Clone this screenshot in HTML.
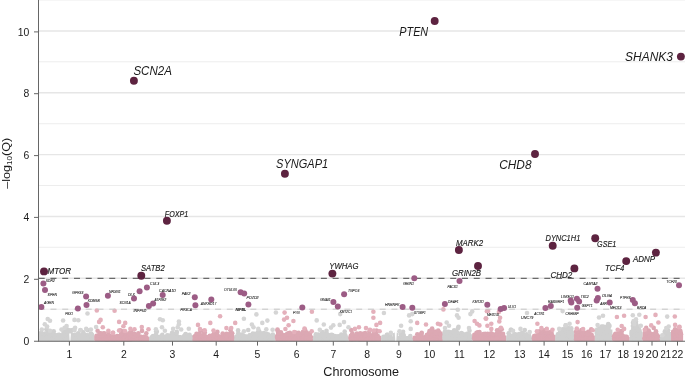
<!DOCTYPE html>
<html><head><meta charset="utf-8"><title>Manhattan plot</title>
<style>html,body{margin:0;padding:0;background:#fff;}svg{display:block;will-change:transform;}text{font-family:"Liberation Sans",sans-serif;}</style>
</head><body>
<svg width="685" height="376" viewBox="0 0 685 376">
<rect width="685" height="376" fill="#ffffff"/>
<line x1="38.5" x2="685" y1="309.2" y2="309.2" stroke="#ececec" stroke-width="0.95"/>
<line x1="38.5" x2="685" y1="278.3" y2="278.3" stroke="#e6e6e6" stroke-width="1.45"/>
<line x1="38.5" x2="685" y1="247.3" y2="247.3" stroke="#ececec" stroke-width="0.95"/>
<line x1="38.5" x2="685" y1="216.4" y2="216.4" stroke="#e6e6e6" stroke-width="1.45"/>
<line x1="38.5" x2="685" y1="185.5" y2="185.5" stroke="#ececec" stroke-width="0.95"/>
<line x1="38.5" x2="685" y1="154.6" y2="154.6" stroke="#e6e6e6" stroke-width="1.45"/>
<line x1="38.5" x2="685" y1="123.7" y2="123.7" stroke="#ececec" stroke-width="0.95"/>
<line x1="38.5" x2="685" y1="92.7" y2="92.7" stroke="#e6e6e6" stroke-width="1.45"/>
<line x1="38.5" x2="685" y1="61.8" y2="61.8" stroke="#ececec" stroke-width="0.95"/>
<line x1="38.5" x2="685" y1="30.9" y2="30.9" stroke="#e6e6e6" stroke-width="1.45"/>
<line x1="38.5" x2="685" y1="-0.0" y2="-0.0" stroke="#ececec" stroke-width="0.95"/>
<defs><clipPath id="cp"><rect x="38" y="0" width="647" height="341.2"/></clipPath></defs>
<g clip-path="url(#cp)">
<g fill="#d0d0d0">
<polygon points="38.8,334.3 50.0,334.3 53.0,337.3 62.0,337.3 64.0,334.3 69.0,334.3 71.0,335.3 94.5,335.8 94.5,342 38.8,342"/>
<circle cx="40.7" cy="333.7" r="2.3"/><circle cx="41.1" cy="335.3" r="2.3"/><circle cx="40.9" cy="337.3" r="2.3"/><circle cx="40.5" cy="339.1" r="2.3"/><circle cx="41.9" cy="333.9" r="2.3"/><circle cx="42.0" cy="335.3" r="2.3"/><circle cx="42.3" cy="337.7" r="2.3"/><circle cx="42.0" cy="338.8" r="2.3"/><circle cx="44.0" cy="334.4" r="2.3"/><circle cx="44.0" cy="335.6" r="2.3"/><circle cx="44.4" cy="336.9" r="2.3"/><circle cx="44.3" cy="338.9" r="2.3"/><circle cx="45.0" cy="333.6" r="2.3"/><circle cx="45.2" cy="336.0" r="2.3"/><circle cx="45.1" cy="337.5" r="2.3"/><circle cx="45.5" cy="339.0" r="2.3"/><circle cx="46.9" cy="333.6" r="2.3"/><circle cx="46.5" cy="335.4" r="2.3"/><circle cx="47.1" cy="337.3" r="2.3"/><circle cx="46.7" cy="339.2" r="2.3"/><circle cx="48.4" cy="333.8" r="2.3"/><circle cx="48.7" cy="335.9" r="2.3"/><circle cx="48.1" cy="337.5" r="2.3"/><circle cx="48.4" cy="339.5" r="2.3"/><circle cx="50.1" cy="333.8" r="2.3"/><circle cx="50.4" cy="335.3" r="2.3"/><circle cx="49.8" cy="337.7" r="2.3"/><circle cx="49.6" cy="339.1" r="2.3"/><circle cx="50.9" cy="335.6" r="2.3"/><circle cx="51.7" cy="337.2" r="2.3"/><circle cx="51.8" cy="338.6" r="2.3"/><circle cx="53.1" cy="337.0" r="2.3"/><circle cx="53.0" cy="338.6" r="2.3"/><circle cx="54.7" cy="337.4" r="2.3"/><circle cx="54.4" cy="338.9" r="2.3"/><circle cx="55.5" cy="337.2" r="2.3"/><circle cx="56.0" cy="339.2" r="2.3"/><circle cx="57.7" cy="336.8" r="2.3"/><circle cx="57.3" cy="338.9" r="2.3"/><circle cx="58.4" cy="337.0" r="2.3"/><circle cx="58.6" cy="338.3" r="2.3"/><circle cx="60.0" cy="337.3" r="2.3"/><circle cx="60.0" cy="338.4" r="2.3"/><circle cx="61.8" cy="337.4" r="2.3"/><circle cx="61.5" cy="338.6" r="2.3"/><circle cx="63.4" cy="335.3" r="2.3"/><circle cx="63.7" cy="337.0" r="2.3"/><circle cx="63.2" cy="338.2" r="2.3"/><circle cx="63.3" cy="340.4" r="2.3"/><circle cx="65.4" cy="333.7" r="2.3"/><circle cx="64.6" cy="335.4" r="2.3"/><circle cx="64.6" cy="337.4" r="2.3"/><circle cx="65.0" cy="338.9" r="2.3"/><circle cx="65.9" cy="333.9" r="2.3"/><circle cx="66.3" cy="335.8" r="2.3"/><circle cx="66.9" cy="337.6" r="2.3"/><circle cx="66.4" cy="339.2" r="2.3"/><circle cx="68.1" cy="333.6" r="2.3"/><circle cx="68.3" cy="336.0" r="2.3"/><circle cx="68.3" cy="337.7" r="2.3"/><circle cx="67.8" cy="339.0" r="2.3"/><circle cx="69.0" cy="334.3" r="2.3"/><circle cx="69.0" cy="335.5" r="2.3"/><circle cx="69.1" cy="337.3" r="2.3"/><circle cx="69.2" cy="338.9" r="2.3"/><circle cx="70.4" cy="334.6" r="2.3"/><circle cx="70.5" cy="336.5" r="2.3"/><circle cx="70.4" cy="338.7" r="2.3"/><circle cx="72.5" cy="334.7" r="2.3"/><circle cx="72.2" cy="336.6" r="2.3"/><circle cx="72.3" cy="338.1" r="2.3"/><circle cx="74.2" cy="335.6" r="2.3"/><circle cx="73.9" cy="336.7" r="2.3"/><circle cx="73.5" cy="338.1" r="2.3"/><circle cx="75.2" cy="334.9" r="2.3"/><circle cx="75.7" cy="336.5" r="2.3"/><circle cx="74.9" cy="338.9" r="2.3"/><circle cx="76.9" cy="334.8" r="2.3"/><circle cx="76.9" cy="336.4" r="2.3"/><circle cx="76.9" cy="339.0" r="2.3"/><circle cx="78.8" cy="335.4" r="2.3"/><circle cx="78.2" cy="336.7" r="2.3"/><circle cx="78.1" cy="338.8" r="2.3"/><circle cx="79.9" cy="335.5" r="2.3"/><circle cx="79.7" cy="336.6" r="2.3"/><circle cx="80.2" cy="339.1" r="2.3"/><circle cx="81.8" cy="335.5" r="2.3"/><circle cx="81.7" cy="337.2" r="2.3"/><circle cx="81.1" cy="338.6" r="2.3"/><circle cx="82.8" cy="334.8" r="2.3"/><circle cx="82.4" cy="336.7" r="2.3"/><circle cx="82.7" cy="338.8" r="2.3"/><circle cx="84.9" cy="335.2" r="2.3"/><circle cx="84.8" cy="337.5" r="2.3"/><circle cx="84.9" cy="338.5" r="2.3"/><circle cx="85.6" cy="335.0" r="2.3"/><circle cx="85.6" cy="336.7" r="2.3"/><circle cx="86.0" cy="339.1" r="2.3"/><circle cx="87.7" cy="335.3" r="2.3"/><circle cx="87.6" cy="337.3" r="2.3"/><circle cx="87.0" cy="338.9" r="2.3"/><circle cx="89.3" cy="335.7" r="2.3"/><circle cx="89.2" cy="337.1" r="2.3"/><circle cx="88.6" cy="339.1" r="2.3"/><circle cx="90.2" cy="335.7" r="2.3"/><circle cx="90.9" cy="337.0" r="2.3"/><circle cx="90.3" cy="339.3" r="2.3"/><circle cx="92.1" cy="335.1" r="2.3"/><circle cx="91.5" cy="336.8" r="2.3"/><circle cx="92.3" cy="339.2" r="2.3"/><circle cx="48.5" cy="332.8" r="2.3"/><circle cx="91.3" cy="333.8" r="2.3"/><circle cx="59.0" cy="335.0" r="2.3"/><circle cx="47.7" cy="330.5" r="2.3"/><circle cx="90.8" cy="333.7" r="2.3"/><circle cx="68.0" cy="333.1" r="2.3"/><circle cx="63.3" cy="334.1" r="2.3"/><circle cx="83.4" cy="332.4" r="2.3"/><circle cx="53.9" cy="334.3" r="2.3"/><circle cx="53.3" cy="335.1" r="2.3"/><circle cx="54.3" cy="334.7" r="2.3"/><circle cx="47.7" cy="333.0" r="2.3"/><circle cx="59.1" cy="334.8" r="2.3"/><circle cx="70.9" cy="334.0" r="2.3"/><circle cx="62.6" cy="335.2" r="2.3"/><circle cx="66.7" cy="332.0" r="2.3"/><circle cx="67.9" cy="330.6" r="2.3"/><circle cx="63.6" cy="331.6" r="2.3"/><circle cx="41.2" cy="332.7" r="2.3"/><circle cx="49.8" cy="331.8" r="2.3"/><circle cx="78.2" cy="333.2" r="2.3"/><circle cx="57.7" cy="335.0" r="2.3"/><circle cx="69.5" cy="332.9" r="2.3"/><circle cx="46.4" cy="329.2" r="2.3"/><circle cx="53.7" cy="331.3" r="2.3"/><circle cx="80.6" cy="330.2" r="2.3"/><circle cx="69.8" cy="330.2" r="2.3"/><circle cx="87.8" cy="330.2" r="2.3"/><circle cx="72.4" cy="330.0" r="2.3"/><circle cx="67.3" cy="329.6" r="2.3"/>
</g>
<g fill="#dca8b3">
<polygon points="94.5,335.8 100.0,336.3 149.6,337.3 149.6,342 94.5,342"/>
<circle cx="96.6" cy="335.7" r="2.3"/><circle cx="96.6" cy="337.8" r="2.3"/><circle cx="96.8" cy="339.5" r="2.3"/><circle cx="98.5" cy="335.6" r="2.3"/><circle cx="98.2" cy="338.0" r="2.3"/><circle cx="98.4" cy="338.9" r="2.3"/><circle cx="99.2" cy="335.9" r="2.3"/><circle cx="99.2" cy="337.4" r="2.3"/><circle cx="99.2" cy="339.5" r="2.3"/><circle cx="101.4" cy="336.4" r="2.3"/><circle cx="100.8" cy="337.9" r="2.3"/><circle cx="101.3" cy="339.1" r="2.3"/><circle cx="103.0" cy="336.5" r="2.3"/><circle cx="102.3" cy="338.2" r="2.3"/><circle cx="102.5" cy="339.4" r="2.3"/><circle cx="104.6" cy="336.4" r="2.3"/><circle cx="103.8" cy="337.7" r="2.3"/><circle cx="104.1" cy="339.3" r="2.3"/><circle cx="105.3" cy="335.9" r="2.3"/><circle cx="105.8" cy="337.3" r="2.3"/><circle cx="105.7" cy="339.5" r="2.3"/><circle cx="106.6" cy="336.0" r="2.3"/><circle cx="107.2" cy="337.9" r="2.3"/><circle cx="106.7" cy="340.0" r="2.3"/><circle cx="108.9" cy="336.6" r="2.3"/><circle cx="108.2" cy="337.6" r="2.3"/><circle cx="108.1" cy="339.9" r="2.3"/><circle cx="109.9" cy="335.8" r="2.3"/><circle cx="110.0" cy="338.3" r="2.3"/><circle cx="110.4" cy="339.4" r="2.3"/><circle cx="111.2" cy="336.7" r="2.3"/><circle cx="111.7" cy="338.1" r="2.3"/><circle cx="111.2" cy="339.2" r="2.3"/><circle cx="113.3" cy="336.2" r="2.3"/><circle cx="112.7" cy="338.4" r="2.3"/><circle cx="113.2" cy="340.0" r="2.3"/><circle cx="114.2" cy="336.7" r="2.3"/><circle cx="114.2" cy="338.4" r="2.3"/><circle cx="114.6" cy="339.5" r="2.3"/><circle cx="116.2" cy="336.8" r="2.3"/><circle cx="115.9" cy="337.7" r="2.3"/><circle cx="116.1" cy="339.5" r="2.3"/><circle cx="117.2" cy="336.0" r="2.3"/><circle cx="117.2" cy="337.8" r="2.3"/><circle cx="117.4" cy="339.6" r="2.3"/><circle cx="119.4" cy="336.2" r="2.3"/><circle cx="119.1" cy="337.8" r="2.3"/><circle cx="118.9" cy="339.3" r="2.3"/><circle cx="120.4" cy="335.9" r="2.3"/><circle cx="120.8" cy="338.2" r="2.3"/><circle cx="120.3" cy="339.8" r="2.3"/><circle cx="122.5" cy="336.1" r="2.3"/><circle cx="122.4" cy="338.1" r="2.3"/><circle cx="122.1" cy="340.2" r="2.3"/><circle cx="123.5" cy="336.5" r="2.3"/><circle cx="123.8" cy="338.7" r="2.3"/><circle cx="123.4" cy="340.2" r="2.3"/><circle cx="125.3" cy="336.6" r="2.3"/><circle cx="125.0" cy="338.1" r="2.3"/><circle cx="124.7" cy="339.5" r="2.3"/><circle cx="126.2" cy="336.8" r="2.3"/><circle cx="126.4" cy="337.9" r="2.3"/><circle cx="126.2" cy="340.3" r="2.3"/><circle cx="128.5" cy="336.7" r="2.3"/><circle cx="127.9" cy="338.0" r="2.3"/><circle cx="127.9" cy="339.9" r="2.3"/><circle cx="129.3" cy="336.5" r="2.3"/><circle cx="129.4" cy="338.8" r="2.3"/><circle cx="130.1" cy="340.0" r="2.3"/><circle cx="130.8" cy="337.1" r="2.3"/><circle cx="130.9" cy="338.2" r="2.3"/><circle cx="132.1" cy="336.5" r="2.3"/><circle cx="132.6" cy="338.4" r="2.3"/><circle cx="133.8" cy="336.7" r="2.3"/><circle cx="133.6" cy="338.2" r="2.3"/><circle cx="135.2" cy="336.6" r="2.3"/><circle cx="135.1" cy="337.9" r="2.3"/><circle cx="136.9" cy="336.5" r="2.3"/><circle cx="137.2" cy="338.5" r="2.3"/><circle cx="138.9" cy="336.9" r="2.3"/><circle cx="138.8" cy="338.9" r="2.3"/><circle cx="140.0" cy="336.6" r="2.3"/><circle cx="140.6" cy="338.2" r="2.3"/><circle cx="141.8" cy="337.0" r="2.3"/><circle cx="141.1" cy="338.9" r="2.3"/><circle cx="143.5" cy="337.0" r="2.3"/><circle cx="143.3" cy="338.9" r="2.3"/><circle cx="144.2" cy="336.9" r="2.3"/><circle cx="144.6" cy="338.9" r="2.3"/><circle cx="146.4" cy="337.3" r="2.3"/><circle cx="146.2" cy="339.0" r="2.3"/><circle cx="131.3" cy="335.1" r="2.3"/><circle cx="108.4" cy="332.8" r="2.3"/><circle cx="103.4" cy="333.6" r="2.3"/><circle cx="102.0" cy="334.9" r="2.3"/><circle cx="125.0" cy="334.8" r="2.3"/><circle cx="128.4" cy="335.0" r="2.3"/><circle cx="121.5" cy="332.9" r="2.3"/><circle cx="137.1" cy="335.3" r="2.3"/><circle cx="122.2" cy="334.4" r="2.3"/><circle cx="130.1" cy="333.3" r="2.3"/><circle cx="134.1" cy="333.9" r="2.3"/><circle cx="100.5" cy="333.3" r="2.3"/><circle cx="133.7" cy="333.8" r="2.3"/><circle cx="134.2" cy="335.9" r="2.3"/><circle cx="121.7" cy="334.0" r="2.3"/><circle cx="121.0" cy="334.8" r="2.3"/><circle cx="135.6" cy="334.9" r="2.3"/><circle cx="129.3" cy="333.3" r="2.3"/><circle cx="104.2" cy="333.3" r="2.3"/><circle cx="134.4" cy="334.0" r="2.3"/><circle cx="125.5" cy="333.0" r="2.3"/><circle cx="99.8" cy="333.2" r="2.3"/><circle cx="130.8" cy="335.1" r="2.3"/><circle cx="131.0" cy="331.0" r="2.3"/><circle cx="122.9" cy="331.4" r="2.3"/><circle cx="120.3" cy="330.3" r="2.3"/><circle cx="142.0" cy="330.9" r="2.3"/><circle cx="146.3" cy="333.2" r="2.3"/><circle cx="97.6" cy="330.7" r="2.3"/><circle cx="138.3" cy="333.2" r="2.3"/>
</g>
<g fill="#d0d0d0">
<polygon points="149.6,337.8 192.8,337.8 192.8,342 149.6,342"/>
<circle cx="151.6" cy="337.3" r="2.3"/><circle cx="151.4" cy="339.6" r="2.3"/><circle cx="152.9" cy="337.6" r="2.3"/><circle cx="152.8" cy="339.2" r="2.3"/><circle cx="155.2" cy="337.1" r="2.3"/><circle cx="155.0" cy="339.2" r="2.3"/><circle cx="156.6" cy="337.7" r="2.3"/><circle cx="155.9" cy="339.6" r="2.3"/><circle cx="157.7" cy="337.0" r="2.3"/><circle cx="157.2" cy="339.2" r="2.3"/><circle cx="159.2" cy="337.3" r="2.3"/><circle cx="158.8" cy="339.0" r="2.3"/><circle cx="160.5" cy="337.8" r="2.3"/><circle cx="160.2" cy="339.5" r="2.3"/><circle cx="162.5" cy="337.1" r="2.3"/><circle cx="162.6" cy="339.4" r="2.3"/><circle cx="164.1" cy="337.3" r="2.3"/><circle cx="163.6" cy="339.1" r="2.3"/><circle cx="165.7" cy="337.6" r="2.3"/><circle cx="165.1" cy="339.1" r="2.3"/><circle cx="166.5" cy="337.0" r="2.3"/><circle cx="166.3" cy="339.5" r="2.3"/><circle cx="168.0" cy="337.9" r="2.3"/><circle cx="167.9" cy="339.0" r="2.3"/><circle cx="169.7" cy="337.2" r="2.3"/><circle cx="169.6" cy="339.7" r="2.3"/><circle cx="171.6" cy="337.8" r="2.3"/><circle cx="171.3" cy="339.6" r="2.3"/><circle cx="173.1" cy="337.5" r="2.3"/><circle cx="172.9" cy="338.7" r="2.3"/><circle cx="174.4" cy="337.5" r="2.3"/><circle cx="174.5" cy="339.3" r="2.3"/><circle cx="175.5" cy="337.0" r="2.3"/><circle cx="176.1" cy="338.8" r="2.3"/><circle cx="177.2" cy="337.3" r="2.3"/><circle cx="177.0" cy="339.4" r="2.3"/><circle cx="179.2" cy="337.3" r="2.3"/><circle cx="178.9" cy="339.0" r="2.3"/><circle cx="180.3" cy="337.4" r="2.3"/><circle cx="179.9" cy="338.9" r="2.3"/><circle cx="181.4" cy="337.9" r="2.3"/><circle cx="181.7" cy="338.9" r="2.3"/><circle cx="183.6" cy="338.0" r="2.3"/><circle cx="183.1" cy="338.8" r="2.3"/><circle cx="184.4" cy="337.1" r="2.3"/><circle cx="184.5" cy="338.8" r="2.3"/><circle cx="185.9" cy="337.3" r="2.3"/><circle cx="186.3" cy="339.6" r="2.3"/><circle cx="187.9" cy="337.4" r="2.3"/><circle cx="187.6" cy="339.2" r="2.3"/><circle cx="189.1" cy="337.3" r="2.3"/><circle cx="188.8" cy="339.0" r="2.3"/><circle cx="191.2" cy="337.1" r="2.3"/><circle cx="190.7" cy="339.3" r="2.3"/><circle cx="185.3" cy="334.6" r="2.3"/><circle cx="162.3" cy="334.7" r="2.3"/><circle cx="167.3" cy="335.2" r="2.3"/><circle cx="188.8" cy="336.4" r="2.3"/><circle cx="185.7" cy="334.1" r="2.3"/><circle cx="153.1" cy="336.0" r="2.3"/><circle cx="186.6" cy="335.3" r="2.3"/><circle cx="174.6" cy="334.0" r="2.3"/><circle cx="167.0" cy="336.6" r="2.3"/><circle cx="183.8" cy="336.4" r="2.3"/><circle cx="189.5" cy="334.7" r="2.3"/><circle cx="156.0" cy="334.4" r="2.3"/><circle cx="172.1" cy="335.9" r="2.3"/><circle cx="188.3" cy="336.0" r="2.3"/><circle cx="176.9" cy="336.1" r="2.3"/><circle cx="169.5" cy="335.5" r="2.3"/><circle cx="153.3" cy="336.2" r="2.3"/><circle cx="160.8" cy="336.6" r="2.3"/><circle cx="176.8" cy="331.9" r="2.3"/><circle cx="156.8" cy="331.8" r="2.3"/><circle cx="176.5" cy="333.1" r="2.3"/><circle cx="156.2" cy="331.2" r="2.3"/><circle cx="172.1" cy="332.7" r="2.3"/>
</g>
<g fill="#dca8b3">
<polygon points="192.8,336.8 234.7,336.8 234.7,342 192.8,342"/>
<circle cx="194.8" cy="336.2" r="2.3"/><circle cx="195.0" cy="337.7" r="2.3"/><circle cx="194.7" cy="339.9" r="2.3"/><circle cx="196.9" cy="336.6" r="2.3"/><circle cx="196.8" cy="338.2" r="2.3"/><circle cx="196.1" cy="339.6" r="2.3"/><circle cx="198.4" cy="336.7" r="2.3"/><circle cx="197.7" cy="337.7" r="2.3"/><circle cx="197.9" cy="340.1" r="2.3"/><circle cx="199.3" cy="336.3" r="2.3"/><circle cx="199.6" cy="338.6" r="2.3"/><circle cx="199.1" cy="339.4" r="2.3"/><circle cx="200.7" cy="336.4" r="2.3"/><circle cx="201.1" cy="337.9" r="2.3"/><circle cx="201.2" cy="340.1" r="2.3"/><circle cx="202.4" cy="336.2" r="2.3"/><circle cx="202.9" cy="338.0" r="2.3"/><circle cx="202.7" cy="339.6" r="2.3"/><circle cx="203.6" cy="336.8" r="2.3"/><circle cx="203.7" cy="338.7" r="2.3"/><circle cx="203.9" cy="339.6" r="2.3"/><circle cx="205.1" cy="336.4" r="2.3"/><circle cx="205.6" cy="338.6" r="2.3"/><circle cx="205.0" cy="339.8" r="2.3"/><circle cx="206.6" cy="337.0" r="2.3"/><circle cx="206.5" cy="337.8" r="2.3"/><circle cx="206.5" cy="339.8" r="2.3"/><circle cx="208.8" cy="336.9" r="2.3"/><circle cx="208.6" cy="338.7" r="2.3"/><circle cx="208.8" cy="339.7" r="2.3"/><circle cx="209.6" cy="336.9" r="2.3"/><circle cx="210.1" cy="337.7" r="2.3"/><circle cx="210.1" cy="339.8" r="2.3"/><circle cx="211.3" cy="336.3" r="2.3"/><circle cx="211.1" cy="337.7" r="2.3"/><circle cx="211.2" cy="339.8" r="2.3"/><circle cx="213.4" cy="336.1" r="2.3"/><circle cx="213.4" cy="337.9" r="2.3"/><circle cx="212.8" cy="340.2" r="2.3"/><circle cx="214.7" cy="336.4" r="2.3"/><circle cx="213.9" cy="338.2" r="2.3"/><circle cx="214.3" cy="340.3" r="2.3"/><circle cx="215.6" cy="336.4" r="2.3"/><circle cx="216.3" cy="337.7" r="2.3"/><circle cx="215.8" cy="340.2" r="2.3"/><circle cx="217.7" cy="336.0" r="2.3"/><circle cx="216.9" cy="337.8" r="2.3"/><circle cx="217.8" cy="339.7" r="2.3"/><circle cx="219.1" cy="336.9" r="2.3"/><circle cx="218.7" cy="338.0" r="2.3"/><circle cx="219.4" cy="340.0" r="2.3"/><circle cx="220.2" cy="336.7" r="2.3"/><circle cx="220.2" cy="338.0" r="2.3"/><circle cx="219.9" cy="340.2" r="2.3"/><circle cx="222.3" cy="336.6" r="2.3"/><circle cx="222.3" cy="337.7" r="2.3"/><circle cx="221.6" cy="339.9" r="2.3"/><circle cx="223.9" cy="337.0" r="2.3"/><circle cx="223.3" cy="338.0" r="2.3"/><circle cx="223.3" cy="339.9" r="2.3"/><circle cx="225.3" cy="336.2" r="2.3"/><circle cx="225.2" cy="338.4" r="2.3"/><circle cx="225.2" cy="340.2" r="2.3"/><circle cx="226.5" cy="336.3" r="2.3"/><circle cx="226.2" cy="338.1" r="2.3"/><circle cx="226.7" cy="339.5" r="2.3"/><circle cx="227.6" cy="336.8" r="2.3"/><circle cx="227.6" cy="337.8" r="2.3"/><circle cx="227.4" cy="340.0" r="2.3"/><circle cx="229.2" cy="337.0" r="2.3"/><circle cx="229.8" cy="338.7" r="2.3"/><circle cx="229.2" cy="339.5" r="2.3"/><circle cx="230.5" cy="336.5" r="2.3"/><circle cx="231.1" cy="338.1" r="2.3"/><circle cx="230.6" cy="339.8" r="2.3"/><circle cx="232.5" cy="336.7" r="2.3"/><circle cx="232.6" cy="338.5" r="2.3"/><circle cx="232.6" cy="339.5" r="2.3"/><circle cx="226.5" cy="333.8" r="2.3"/><circle cx="216.3" cy="334.0" r="2.3"/><circle cx="222.7" cy="333.6" r="2.3"/><circle cx="204.3" cy="333.7" r="2.3"/><circle cx="200.7" cy="335.5" r="2.3"/><circle cx="216.7" cy="333.9" r="2.3"/><circle cx="209.9" cy="335.8" r="2.3"/><circle cx="214.0" cy="333.6" r="2.3"/><circle cx="225.3" cy="334.8" r="2.3"/><circle cx="232.2" cy="333.3" r="2.3"/><circle cx="212.8" cy="335.3" r="2.3"/><circle cx="226.5" cy="335.6" r="2.3"/><circle cx="196.5" cy="333.8" r="2.3"/><circle cx="199.5" cy="333.5" r="2.3"/><circle cx="231.5" cy="334.6" r="2.3"/><circle cx="229.9" cy="334.0" r="2.3"/><circle cx="227.5" cy="334.3" r="2.3"/><circle cx="204.7" cy="332.3" r="2.3"/><circle cx="230.5" cy="330.3" r="2.3"/><circle cx="217.4" cy="331.9" r="2.3"/><circle cx="203.2" cy="331.1" r="2.3"/><circle cx="200.3" cy="330.6" r="2.3"/>
</g>
<g fill="#d0d0d0">
<polygon points="234.7,336.8 275.3,336.8 275.3,342 234.7,342"/>
<circle cx="236.6" cy="336.6" r="2.3"/><circle cx="237.0" cy="337.9" r="2.3"/><circle cx="236.3" cy="339.7" r="2.3"/><circle cx="238.5" cy="336.2" r="2.3"/><circle cx="238.1" cy="337.9" r="2.3"/><circle cx="238.6" cy="339.9" r="2.3"/><circle cx="239.4" cy="336.1" r="2.3"/><circle cx="239.7" cy="338.3" r="2.3"/><circle cx="239.9" cy="339.5" r="2.3"/><circle cx="241.0" cy="336.7" r="2.3"/><circle cx="241.2" cy="338.0" r="2.3"/><circle cx="241.1" cy="340.4" r="2.3"/><circle cx="242.6" cy="336.6" r="2.3"/><circle cx="242.7" cy="338.1" r="2.3"/><circle cx="243.2" cy="340.4" r="2.3"/><circle cx="244.2" cy="336.2" r="2.3"/><circle cx="244.5" cy="337.9" r="2.3"/><circle cx="243.8" cy="340.3" r="2.3"/><circle cx="245.7" cy="336.8" r="2.3"/><circle cx="245.7" cy="338.6" r="2.3"/><circle cx="245.8" cy="339.6" r="2.3"/><circle cx="246.8" cy="336.6" r="2.3"/><circle cx="247.4" cy="338.6" r="2.3"/><circle cx="246.9" cy="340.0" r="2.3"/><circle cx="248.7" cy="336.5" r="2.3"/><circle cx="248.4" cy="338.0" r="2.3"/><circle cx="248.8" cy="340.3" r="2.3"/><circle cx="249.9" cy="336.5" r="2.3"/><circle cx="250.6" cy="338.7" r="2.3"/><circle cx="250.0" cy="339.5" r="2.3"/><circle cx="252.2" cy="337.0" r="2.3"/><circle cx="251.8" cy="337.8" r="2.3"/><circle cx="252.2" cy="339.8" r="2.3"/><circle cx="253.7" cy="336.6" r="2.3"/><circle cx="253.6" cy="337.9" r="2.3"/><circle cx="253.6" cy="339.6" r="2.3"/><circle cx="254.7" cy="336.8" r="2.3"/><circle cx="255.1" cy="337.9" r="2.3"/><circle cx="254.5" cy="339.8" r="2.3"/><circle cx="256.3" cy="336.4" r="2.3"/><circle cx="255.9" cy="337.9" r="2.3"/><circle cx="256.5" cy="340.3" r="2.3"/><circle cx="257.3" cy="336.6" r="2.3"/><circle cx="258.1" cy="337.7" r="2.3"/><circle cx="258.1" cy="339.5" r="2.3"/><circle cx="259.4" cy="336.6" r="2.3"/><circle cx="259.4" cy="338.0" r="2.3"/><circle cx="259.2" cy="340.0" r="2.3"/><circle cx="260.7" cy="336.7" r="2.3"/><circle cx="260.7" cy="338.1" r="2.3"/><circle cx="260.3" cy="340.0" r="2.3"/><circle cx="262.3" cy="336.2" r="2.3"/><circle cx="262.6" cy="338.5" r="2.3"/><circle cx="262.3" cy="339.6" r="2.3"/><circle cx="263.8" cy="336.1" r="2.3"/><circle cx="263.4" cy="338.1" r="2.3"/><circle cx="263.4" cy="339.8" r="2.3"/><circle cx="265.3" cy="336.0" r="2.3"/><circle cx="265.4" cy="337.8" r="2.3"/><circle cx="265.5" cy="340.2" r="2.3"/><circle cx="266.8" cy="336.1" r="2.3"/><circle cx="266.8" cy="338.1" r="2.3"/><circle cx="267.3" cy="339.5" r="2.3"/><circle cx="268.7" cy="337.0" r="2.3"/><circle cx="268.5" cy="338.5" r="2.3"/><circle cx="268.0" cy="340.4" r="2.3"/><circle cx="269.8" cy="337.0" r="2.3"/><circle cx="270.2" cy="337.9" r="2.3"/><circle cx="270.1" cy="340.3" r="2.3"/><circle cx="270.9" cy="336.4" r="2.3"/><circle cx="271.6" cy="337.9" r="2.3"/><circle cx="271.7" cy="339.7" r="2.3"/><circle cx="273.1" cy="336.1" r="2.3"/><circle cx="272.8" cy="338.6" r="2.3"/><circle cx="272.5" cy="339.7" r="2.3"/><circle cx="255.2" cy="333.9" r="2.3"/><circle cx="238.2" cy="333.5" r="2.3"/><circle cx="242.7" cy="335.6" r="2.3"/><circle cx="261.5" cy="335.5" r="2.3"/><circle cx="243.0" cy="335.2" r="2.3"/><circle cx="241.1" cy="334.5" r="2.3"/><circle cx="259.9" cy="334.0" r="2.3"/><circle cx="268.5" cy="334.6" r="2.3"/><circle cx="257.9" cy="335.5" r="2.3"/><circle cx="240.7" cy="335.8" r="2.3"/><circle cx="259.7" cy="334.1" r="2.3"/><circle cx="265.8" cy="333.7" r="2.3"/><circle cx="272.8" cy="334.6" r="2.3"/><circle cx="249.9" cy="335.1" r="2.3"/><circle cx="252.9" cy="333.5" r="2.3"/><circle cx="263.8" cy="333.1" r="2.3"/><circle cx="266.6" cy="333.7" r="2.3"/><circle cx="260.0" cy="333.0" r="2.3"/><circle cx="258.1" cy="332.0" r="2.3"/><circle cx="248.2" cy="330.0" r="2.3"/><circle cx="238.1" cy="330.4" r="2.3"/><circle cx="259.2" cy="331.3" r="2.3"/>
</g>
<g fill="#dca8b3">
<polygon points="275.3,335.8 313.3,335.8 313.3,342 275.3,342"/>
<circle cx="277.4" cy="335.9" r="2.3"/><circle cx="277.0" cy="336.9" r="2.3"/><circle cx="277.6" cy="338.4" r="2.3"/><circle cx="278.4" cy="335.4" r="2.3"/><circle cx="278.5" cy="337.1" r="2.3"/><circle cx="278.6" cy="339.0" r="2.3"/><circle cx="280.5" cy="335.2" r="2.3"/><circle cx="280.5" cy="337.2" r="2.3"/><circle cx="280.0" cy="339.3" r="2.3"/><circle cx="281.6" cy="335.1" r="2.3"/><circle cx="281.5" cy="337.3" r="2.3"/><circle cx="282.3" cy="339.2" r="2.3"/><circle cx="283.3" cy="335.3" r="2.3"/><circle cx="282.9" cy="337.3" r="2.3"/><circle cx="283.5" cy="338.8" r="2.3"/><circle cx="285.0" cy="335.4" r="2.3"/><circle cx="285.3" cy="337.4" r="2.3"/><circle cx="284.6" cy="339.3" r="2.3"/><circle cx="285.9" cy="335.5" r="2.3"/><circle cx="286.3" cy="336.9" r="2.3"/><circle cx="286.0" cy="339.2" r="2.3"/><circle cx="287.4" cy="335.6" r="2.3"/><circle cx="288.3" cy="336.8" r="2.3"/><circle cx="287.6" cy="339.0" r="2.3"/><circle cx="289.4" cy="335.6" r="2.3"/><circle cx="289.7" cy="336.9" r="2.3"/><circle cx="289.2" cy="338.7" r="2.3"/><circle cx="290.4" cy="335.9" r="2.3"/><circle cx="291.2" cy="337.4" r="2.3"/><circle cx="290.4" cy="339.2" r="2.3"/><circle cx="292.6" cy="335.5" r="2.3"/><circle cx="292.6" cy="337.2" r="2.3"/><circle cx="292.1" cy="338.5" r="2.3"/><circle cx="293.6" cy="335.0" r="2.3"/><circle cx="293.7" cy="337.4" r="2.3"/><circle cx="294.1" cy="339.2" r="2.3"/><circle cx="295.6" cy="335.3" r="2.3"/><circle cx="295.5" cy="337.1" r="2.3"/><circle cx="295.7" cy="338.9" r="2.3"/><circle cx="296.7" cy="335.6" r="2.3"/><circle cx="297.4" cy="336.9" r="2.3"/><circle cx="297.3" cy="338.4" r="2.3"/><circle cx="298.2" cy="335.2" r="2.3"/><circle cx="298.6" cy="337.6" r="2.3"/><circle cx="298.6" cy="338.7" r="2.3"/><circle cx="300.3" cy="335.3" r="2.3"/><circle cx="299.6" cy="337.6" r="2.3"/><circle cx="300.0" cy="339.1" r="2.3"/><circle cx="301.6" cy="336.0" r="2.3"/><circle cx="301.4" cy="337.5" r="2.3"/><circle cx="301.6" cy="339.3" r="2.3"/><circle cx="302.8" cy="335.7" r="2.3"/><circle cx="303.0" cy="337.0" r="2.3"/><circle cx="302.6" cy="339.0" r="2.3"/><circle cx="304.0" cy="335.9" r="2.3"/><circle cx="304.0" cy="336.7" r="2.3"/><circle cx="304.0" cy="339.3" r="2.3"/><circle cx="305.7" cy="335.1" r="2.3"/><circle cx="305.4" cy="336.7" r="2.3"/><circle cx="306.1" cy="339.0" r="2.3"/><circle cx="307.6" cy="335.7" r="2.3"/><circle cx="307.0" cy="337.3" r="2.3"/><circle cx="307.3" cy="339.2" r="2.3"/><circle cx="309.2" cy="335.9" r="2.3"/><circle cx="308.5" cy="337.6" r="2.3"/><circle cx="309.3" cy="339.3" r="2.3"/><circle cx="310.0" cy="335.2" r="2.3"/><circle cx="310.0" cy="336.7" r="2.3"/><circle cx="310.7" cy="339.2" r="2.3"/><circle cx="298.8" cy="334.3" r="2.3"/><circle cx="298.7" cy="332.8" r="2.3"/><circle cx="280.9" cy="332.3" r="2.3"/><circle cx="302.9" cy="332.6" r="2.3"/><circle cx="288.2" cy="333.2" r="2.3"/><circle cx="278.2" cy="332.7" r="2.3"/><circle cx="287.0" cy="334.0" r="2.3"/><circle cx="289.9" cy="332.9" r="2.3"/><circle cx="309.9" cy="333.4" r="2.3"/><circle cx="306.1" cy="333.7" r="2.3"/><circle cx="278.5" cy="333.2" r="2.3"/><circle cx="292.2" cy="334.2" r="2.3"/><circle cx="289.2" cy="334.0" r="2.3"/><circle cx="295.6" cy="332.6" r="2.3"/><circle cx="306.5" cy="332.3" r="2.3"/><circle cx="305.0" cy="329.5" r="2.3"/><circle cx="277.5" cy="329.6" r="2.3"/><circle cx="303.1" cy="331.9" r="2.3"/><circle cx="277.6" cy="330.5" r="2.3"/>
</g>
<g fill="#d0d0d0">
<polygon points="313.3,336.8 348.8,336.8 348.8,342 313.3,342"/>
<circle cx="315.4" cy="336.8" r="2.3"/><circle cx="315.1" cy="338.2" r="2.3"/><circle cx="315.2" cy="340.2" r="2.3"/><circle cx="316.7" cy="336.9" r="2.3"/><circle cx="316.7" cy="337.9" r="2.3"/><circle cx="317.1" cy="339.9" r="2.3"/><circle cx="318.0" cy="336.6" r="2.3"/><circle cx="318.0" cy="338.5" r="2.3"/><circle cx="318.6" cy="340.2" r="2.3"/><circle cx="320.0" cy="336.4" r="2.3"/><circle cx="319.8" cy="338.1" r="2.3"/><circle cx="320.3" cy="339.5" r="2.3"/><circle cx="321.8" cy="336.0" r="2.3"/><circle cx="321.1" cy="338.0" r="2.3"/><circle cx="321.8" cy="339.9" r="2.3"/><circle cx="322.8" cy="336.9" r="2.3"/><circle cx="322.6" cy="338.2" r="2.3"/><circle cx="322.9" cy="340.2" r="2.3"/><circle cx="324.7" cy="336.6" r="2.3"/><circle cx="324.2" cy="338.0" r="2.3"/><circle cx="324.1" cy="340.2" r="2.3"/><circle cx="326.1" cy="336.7" r="2.3"/><circle cx="325.6" cy="338.1" r="2.3"/><circle cx="326.2" cy="340.0" r="2.3"/><circle cx="327.0" cy="336.5" r="2.3"/><circle cx="327.8" cy="337.9" r="2.3"/><circle cx="327.1" cy="339.7" r="2.3"/><circle cx="329.1" cy="336.8" r="2.3"/><circle cx="328.6" cy="337.9" r="2.3"/><circle cx="328.6" cy="339.7" r="2.3"/><circle cx="330.4" cy="336.2" r="2.3"/><circle cx="330.2" cy="337.9" r="2.3"/><circle cx="330.9" cy="340.1" r="2.3"/><circle cx="331.5" cy="337.0" r="2.3"/><circle cx="331.5" cy="338.1" r="2.3"/><circle cx="332.4" cy="340.2" r="2.3"/><circle cx="333.6" cy="336.4" r="2.3"/><circle cx="333.1" cy="338.3" r="2.3"/><circle cx="333.0" cy="339.6" r="2.3"/><circle cx="334.8" cy="336.0" r="2.3"/><circle cx="334.8" cy="338.5" r="2.3"/><circle cx="335.1" cy="339.9" r="2.3"/><circle cx="336.5" cy="336.5" r="2.3"/><circle cx="336.0" cy="338.3" r="2.3"/><circle cx="336.3" cy="340.1" r="2.3"/><circle cx="338.3" cy="336.4" r="2.3"/><circle cx="338.0" cy="338.4" r="2.3"/><circle cx="337.8" cy="339.6" r="2.3"/><circle cx="339.6" cy="336.9" r="2.3"/><circle cx="339.7" cy="338.4" r="2.3"/><circle cx="339.8" cy="340.1" r="2.3"/><circle cx="341.0" cy="336.5" r="2.3"/><circle cx="340.7" cy="338.3" r="2.3"/><circle cx="340.5" cy="339.8" r="2.3"/><circle cx="342.7" cy="336.7" r="2.3"/><circle cx="342.5" cy="338.0" r="2.3"/><circle cx="342.3" cy="339.9" r="2.3"/><circle cx="344.0" cy="336.4" r="2.3"/><circle cx="344.1" cy="338.6" r="2.3"/><circle cx="343.6" cy="340.1" r="2.3"/><circle cx="345.7" cy="336.4" r="2.3"/><circle cx="345.4" cy="338.7" r="2.3"/><circle cx="344.9" cy="339.9" r="2.3"/><circle cx="320.5" cy="335.2" r="2.3"/><circle cx="344.8" cy="334.5" r="2.3"/><circle cx="318.6" cy="334.6" r="2.3"/><circle cx="332.3" cy="335.0" r="2.3"/><circle cx="331.4" cy="334.8" r="2.3"/><circle cx="341.3" cy="334.5" r="2.3"/><circle cx="328.3" cy="335.7" r="2.3"/><circle cx="322.0" cy="334.9" r="2.3"/><circle cx="327.7" cy="335.1" r="2.3"/><circle cx="319.3" cy="335.8" r="2.3"/><circle cx="326.6" cy="333.2" r="2.3"/><circle cx="324.0" cy="334.1" r="2.3"/><circle cx="315.9" cy="334.2" r="2.3"/><circle cx="328.6" cy="335.0" r="2.3"/><circle cx="326.5" cy="330.8" r="2.3"/><circle cx="322.5" cy="332.2" r="2.3"/><circle cx="344.7" cy="331.6" r="2.3"/><circle cx="322.3" cy="332.4" r="2.3"/>
</g>
<g fill="#dca8b3">
<polygon points="348.8,336.3 381.2,335.8 381.2,342 348.8,342"/>
<circle cx="350.8" cy="335.7" r="2.3"/><circle cx="350.5" cy="337.9" r="2.3"/><circle cx="351.2" cy="339.5" r="2.3"/><circle cx="352.4" cy="336.0" r="2.3"/><circle cx="352.1" cy="338.1" r="2.3"/><circle cx="352.3" cy="339.5" r="2.3"/><circle cx="354.2" cy="336.2" r="2.3"/><circle cx="353.9" cy="337.4" r="2.3"/><circle cx="353.9" cy="338.9" r="2.3"/><circle cx="355.7" cy="335.8" r="2.3"/><circle cx="355.8" cy="337.4" r="2.3"/><circle cx="355.3" cy="339.1" r="2.3"/><circle cx="356.8" cy="335.6" r="2.3"/><circle cx="356.4" cy="337.8" r="2.3"/><circle cx="356.7" cy="339.0" r="2.3"/><circle cx="358.2" cy="335.8" r="2.3"/><circle cx="358.3" cy="337.7" r="2.3"/><circle cx="358.6" cy="339.1" r="2.3"/><circle cx="360.3" cy="336.2" r="2.3"/><circle cx="359.5" cy="337.9" r="2.3"/><circle cx="360.3" cy="339.5" r="2.3"/><circle cx="361.0" cy="336.1" r="2.3"/><circle cx="361.5" cy="337.0" r="2.3"/><circle cx="360.9" cy="339.7" r="2.3"/><circle cx="363.1" cy="335.5" r="2.3"/><circle cx="362.5" cy="337.1" r="2.3"/><circle cx="362.6" cy="339.5" r="2.3"/><circle cx="364.2" cy="335.4" r="2.3"/><circle cx="364.8" cy="337.8" r="2.3"/><circle cx="364.1" cy="339.6" r="2.3"/><circle cx="366.0" cy="336.0" r="2.3"/><circle cx="366.1" cy="337.8" r="2.3"/><circle cx="366.2" cy="339.5" r="2.3"/><circle cx="367.1" cy="335.9" r="2.3"/><circle cx="367.4" cy="337.7" r="2.3"/><circle cx="367.3" cy="339.5" r="2.3"/><circle cx="369.0" cy="335.5" r="2.3"/><circle cx="368.6" cy="337.0" r="2.3"/><circle cx="368.9" cy="338.6" r="2.3"/><circle cx="370.4" cy="335.3" r="2.3"/><circle cx="370.4" cy="337.4" r="2.3"/><circle cx="370.4" cy="339.4" r="2.3"/><circle cx="371.4" cy="336.0" r="2.3"/><circle cx="371.9" cy="337.4" r="2.3"/><circle cx="372.1" cy="339.4" r="2.3"/><circle cx="373.3" cy="335.5" r="2.3"/><circle cx="373.9" cy="336.9" r="2.3"/><circle cx="373.5" cy="339.2" r="2.3"/><circle cx="374.4" cy="335.7" r="2.3"/><circle cx="375.1" cy="337.7" r="2.3"/><circle cx="374.7" cy="339.5" r="2.3"/><circle cx="376.4" cy="335.6" r="2.3"/><circle cx="376.8" cy="336.8" r="2.3"/><circle cx="376.6" cy="339.1" r="2.3"/><circle cx="377.7" cy="335.9" r="2.3"/><circle cx="377.8" cy="337.2" r="2.3"/><circle cx="377.9" cy="339.2" r="2.3"/><circle cx="356.9" cy="333.6" r="2.3"/><circle cx="362.8" cy="333.8" r="2.3"/><circle cx="374.1" cy="332.9" r="2.3"/><circle cx="374.2" cy="333.2" r="2.3"/><circle cx="365.1" cy="333.0" r="2.3"/><circle cx="365.2" cy="335.0" r="2.3"/><circle cx="369.3" cy="334.4" r="2.3"/><circle cx="360.3" cy="333.2" r="2.3"/><circle cx="359.4" cy="334.0" r="2.3"/><circle cx="368.8" cy="334.4" r="2.3"/><circle cx="352.1" cy="334.5" r="2.3"/><circle cx="375.8" cy="333.6" r="2.3"/><circle cx="352.4" cy="333.3" r="2.3"/><circle cx="351.2" cy="330.0" r="2.3"/><circle cx="376.8" cy="330.9" r="2.3"/><circle cx="369.4" cy="331.5" r="2.3"/><circle cx="376.5" cy="330.9" r="2.3"/>
</g>
<g fill="#d0d0d0">
<polygon points="381.2,338.6 413.0,338.6 413.0,342 381.2,342"/>
<circle cx="383.4" cy="338.4" r="2.3"/><circle cx="385.0" cy="338.4" r="2.3"/><circle cx="386.5" cy="338.0" r="2.3"/><circle cx="388.0" cy="338.3" r="2.3"/><circle cx="389.6" cy="337.9" r="2.3"/><circle cx="390.5" cy="337.8" r="2.3"/><circle cx="392.6" cy="338.7" r="2.3"/><circle cx="394.0" cy="338.2" r="2.3"/><circle cx="395.6" cy="338.6" r="2.3"/><circle cx="396.9" cy="338.1" r="2.3"/><circle cx="398.1" cy="338.2" r="2.3"/><circle cx="399.6" cy="338.2" r="2.3"/><circle cx="401.4" cy="338.7" r="2.3"/><circle cx="402.4" cy="338.4" r="2.3"/><circle cx="403.8" cy="337.9" r="2.3"/><circle cx="406.1" cy="338.4" r="2.3"/><circle cx="407.7" cy="338.2" r="2.3"/><circle cx="408.3" cy="338.2" r="2.3"/><circle cx="410.4" cy="338.7" r="2.3"/><circle cx="410.3" cy="336.1" r="2.3"/><circle cx="394.7" cy="335.1" r="2.3"/><circle cx="401.1" cy="335.4" r="2.3"/><circle cx="387.6" cy="334.8" r="2.3"/><circle cx="383.5" cy="336.7" r="2.3"/><circle cx="386.7" cy="337.5" r="2.3"/><circle cx="385.8" cy="337.2" r="2.3"/><circle cx="386.9" cy="334.8" r="2.3"/><circle cx="403.1" cy="335.5" r="2.3"/><circle cx="403.5" cy="335.3" r="2.3"/><circle cx="384.8" cy="337.0" r="2.3"/><circle cx="403.0" cy="337.2" r="2.3"/><circle cx="403.4" cy="335.0" r="2.3"/><circle cx="400.6" cy="333.9" r="2.3"/><circle cx="396.0" cy="334.6" r="2.3"/><circle cx="390.4" cy="334.7" r="2.3"/><circle cx="403.1" cy="331.8" r="2.3"/>
</g>
<g fill="#dca8b3">
<polygon points="413.0,338.1 426.0,337.6 428.0,334.1 442.7,334.1 442.7,342 413.0,342"/>
<circle cx="414.6" cy="337.9" r="2.3"/><circle cx="415.4" cy="339.0" r="2.3"/><circle cx="416.4" cy="337.9" r="2.3"/><circle cx="416.3" cy="339.7" r="2.3"/><circle cx="418.1" cy="337.2" r="2.3"/><circle cx="418.0" cy="339.4" r="2.3"/><circle cx="419.5" cy="337.7" r="2.3"/><circle cx="419.2" cy="339.5" r="2.3"/><circle cx="421.0" cy="337.6" r="2.3"/><circle cx="421.2" cy="339.1" r="2.3"/><circle cx="422.5" cy="337.7" r="2.3"/><circle cx="423.0" cy="339.4" r="2.3"/><circle cx="424.2" cy="337.2" r="2.3"/><circle cx="423.7" cy="339.5" r="2.3"/><circle cx="425.8" cy="337.6" r="2.3"/><circle cx="425.4" cy="339.1" r="2.3"/><circle cx="427.6" cy="335.7" r="2.3"/><circle cx="427.2" cy="336.9" r="2.3"/><circle cx="427.0" cy="339.2" r="2.3"/><circle cx="428.5" cy="334.0" r="2.3"/><circle cx="428.7" cy="335.9" r="2.3"/><circle cx="428.9" cy="337.0" r="2.3"/><circle cx="428.1" cy="338.7" r="2.3"/><circle cx="430.0" cy="333.9" r="2.3"/><circle cx="430.4" cy="335.9" r="2.3"/><circle cx="429.6" cy="337.5" r="2.3"/><circle cx="430.4" cy="339.3" r="2.3"/><circle cx="431.7" cy="333.6" r="2.3"/><circle cx="432.0" cy="335.8" r="2.3"/><circle cx="431.8" cy="337.6" r="2.3"/><circle cx="431.4" cy="338.5" r="2.3"/><circle cx="433.2" cy="334.1" r="2.3"/><circle cx="432.8" cy="335.8" r="2.3"/><circle cx="433.5" cy="336.9" r="2.3"/><circle cx="433.2" cy="339.1" r="2.3"/><circle cx="434.6" cy="333.5" r="2.3"/><circle cx="434.4" cy="335.8" r="2.3"/><circle cx="434.9" cy="337.2" r="2.3"/><circle cx="434.2" cy="339.2" r="2.3"/><circle cx="436.4" cy="333.5" r="2.3"/><circle cx="436.2" cy="335.9" r="2.3"/><circle cx="436.5" cy="337.2" r="2.3"/><circle cx="436.1" cy="339.0" r="2.3"/><circle cx="437.3" cy="333.5" r="2.3"/><circle cx="437.3" cy="335.7" r="2.3"/><circle cx="437.5" cy="337.3" r="2.3"/><circle cx="437.5" cy="338.9" r="2.3"/><circle cx="438.7" cy="333.3" r="2.3"/><circle cx="439.6" cy="335.4" r="2.3"/><circle cx="438.7" cy="337.3" r="2.3"/><circle cx="439.4" cy="338.6" r="2.3"/><circle cx="440.7" cy="333.6" r="2.3"/><circle cx="440.6" cy="335.0" r="2.3"/><circle cx="440.1" cy="337.7" r="2.3"/><circle cx="441.0" cy="338.9" r="2.3"/><circle cx="429.5" cy="331.0" r="2.3"/><circle cx="434.9" cy="331.5" r="2.3"/><circle cx="439.1" cy="332.4" r="2.3"/><circle cx="435.9" cy="333.0" r="2.3"/><circle cx="421.6" cy="334.1" r="2.3"/><circle cx="420.3" cy="334.5" r="2.3"/><circle cx="417.3" cy="334.3" r="2.3"/><circle cx="429.3" cy="332.7" r="2.3"/><circle cx="426.8" cy="335.1" r="2.3"/><circle cx="438.2" cy="330.5" r="2.3"/><circle cx="430.3" cy="331.4" r="2.3"/><circle cx="418.2" cy="336.8" r="2.3"/><circle cx="421.7" cy="332.7" r="2.3"/><circle cx="431.4" cy="330.2" r="2.3"/><circle cx="432.1" cy="328.5" r="2.3"/>
</g>
<g fill="#d0d0d0">
<polygon points="442.7,334.6 446.0,333.6 462.0,333.6 465.0,336.6 472.5,337.1 472.5,342 442.7,342"/>
<circle cx="444.7" cy="333.3" r="2.3"/><circle cx="445.3" cy="335.9" r="2.3"/><circle cx="444.5" cy="336.6" r="2.3"/><circle cx="444.6" cy="338.6" r="2.3"/><circle cx="446.7" cy="333.7" r="2.3"/><circle cx="446.6" cy="334.5" r="2.3"/><circle cx="446.6" cy="336.9" r="2.3"/><circle cx="446.4" cy="338.9" r="2.3"/><circle cx="447.4" cy="332.9" r="2.3"/><circle cx="448.1" cy="335.4" r="2.3"/><circle cx="448.0" cy="336.5" r="2.3"/><circle cx="447.9" cy="338.7" r="2.3"/><circle cx="448.9" cy="333.1" r="2.3"/><circle cx="449.1" cy="334.6" r="2.3"/><circle cx="449.3" cy="336.4" r="2.3"/><circle cx="449.0" cy="338.0" r="2.3"/><circle cx="451.0" cy="332.8" r="2.3"/><circle cx="451.0" cy="334.7" r="2.3"/><circle cx="450.3" cy="337.1" r="2.3"/><circle cx="450.5" cy="338.8" r="2.3"/><circle cx="452.7" cy="333.7" r="2.3"/><circle cx="451.9" cy="334.9" r="2.3"/><circle cx="451.9" cy="337.1" r="2.3"/><circle cx="452.6" cy="338.5" r="2.3"/><circle cx="453.8" cy="333.1" r="2.3"/><circle cx="454.1" cy="335.0" r="2.3"/><circle cx="453.9" cy="336.3" r="2.3"/><circle cx="453.5" cy="338.0" r="2.3"/><circle cx="455.5" cy="333.4" r="2.3"/><circle cx="454.9" cy="335.4" r="2.3"/><circle cx="455.1" cy="336.6" r="2.3"/><circle cx="455.0" cy="338.2" r="2.3"/><circle cx="457.1" cy="333.1" r="2.3"/><circle cx="456.5" cy="335.0" r="2.3"/><circle cx="456.6" cy="337.1" r="2.3"/><circle cx="456.4" cy="338.9" r="2.3"/><circle cx="457.9" cy="333.7" r="2.3"/><circle cx="458.5" cy="334.7" r="2.3"/><circle cx="458.3" cy="336.5" r="2.3"/><circle cx="458.1" cy="338.1" r="2.3"/><circle cx="459.7" cy="333.8" r="2.3"/><circle cx="460.3" cy="335.4" r="2.3"/><circle cx="459.4" cy="336.5" r="2.3"/><circle cx="460.2" cy="338.0" r="2.3"/><circle cx="461.5" cy="333.1" r="2.3"/><circle cx="461.8" cy="334.5" r="2.3"/><circle cx="461.6" cy="336.5" r="2.3"/><circle cx="460.9" cy="337.9" r="2.3"/><circle cx="463.1" cy="334.1" r="2.3"/><circle cx="462.5" cy="335.7" r="2.3"/><circle cx="463.2" cy="337.2" r="2.3"/><circle cx="462.9" cy="338.8" r="2.3"/><circle cx="464.0" cy="335.9" r="2.3"/><circle cx="464.5" cy="337.0" r="2.3"/><circle cx="463.9" cy="338.6" r="2.3"/><circle cx="465.9" cy="336.3" r="2.3"/><circle cx="465.6" cy="337.8" r="2.3"/><circle cx="465.9" cy="340.0" r="2.3"/><circle cx="467.6" cy="336.5" r="2.3"/><circle cx="467.0" cy="337.7" r="2.3"/><circle cx="467.5" cy="339.8" r="2.3"/><circle cx="469.0" cy="336.1" r="2.3"/><circle cx="469.1" cy="338.1" r="2.3"/><circle cx="469.1" cy="340.3" r="2.3"/><circle cx="470.3" cy="336.2" r="2.3"/><circle cx="470.7" cy="338.3" r="2.3"/><circle cx="467.0" cy="333.7" r="2.3"/><circle cx="449.6" cy="332.1" r="2.3"/><circle cx="454.2" cy="330.3" r="2.3"/><circle cx="454.3" cy="331.5" r="2.3"/><circle cx="445.0" cy="331.6" r="2.3"/><circle cx="456.2" cy="331.2" r="2.3"/><circle cx="448.0" cy="331.8" r="2.3"/><circle cx="465.6" cy="335.3" r="2.3"/><circle cx="453.1" cy="331.8" r="2.3"/><circle cx="454.6" cy="331.9" r="2.3"/><circle cx="446.5" cy="332.2" r="2.3"/><circle cx="469.1" cy="334.5" r="2.3"/><circle cx="457.9" cy="328.4" r="2.3"/><circle cx="458.5" cy="326.9" r="2.3"/><circle cx="469.5" cy="330.8" r="2.3"/>
</g>
<g fill="#dca8b3">
<polygon points="472.5,335.6 506.4,335.6 506.4,342 472.5,342"/>
<circle cx="474.3" cy="334.9" r="2.3"/><circle cx="474.4" cy="337.3" r="2.3"/><circle cx="474.1" cy="338.3" r="2.3"/><circle cx="476.3" cy="335.0" r="2.3"/><circle cx="475.6" cy="337.1" r="2.3"/><circle cx="476.2" cy="338.7" r="2.3"/><circle cx="477.8" cy="334.9" r="2.3"/><circle cx="478.0" cy="337.2" r="2.3"/><circle cx="477.1" cy="338.3" r="2.3"/><circle cx="479.1" cy="335.3" r="2.3"/><circle cx="478.9" cy="336.6" r="2.3"/><circle cx="479.0" cy="338.3" r="2.3"/><circle cx="480.7" cy="335.7" r="2.3"/><circle cx="480.2" cy="337.1" r="2.3"/><circle cx="480.8" cy="338.4" r="2.3"/><circle cx="482.4" cy="335.7" r="2.3"/><circle cx="482.0" cy="336.9" r="2.3"/><circle cx="482.4" cy="338.7" r="2.3"/><circle cx="483.5" cy="335.7" r="2.3"/><circle cx="483.9" cy="336.8" r="2.3"/><circle cx="483.3" cy="338.5" r="2.3"/><circle cx="485.0" cy="335.8" r="2.3"/><circle cx="485.4" cy="337.4" r="2.3"/><circle cx="485.4" cy="339.0" r="2.3"/><circle cx="486.2" cy="335.3" r="2.3"/><circle cx="487.1" cy="337.4" r="2.3"/><circle cx="486.3" cy="338.6" r="2.3"/><circle cx="488.2" cy="335.2" r="2.3"/><circle cx="488.1" cy="336.6" r="2.3"/><circle cx="488.0" cy="338.7" r="2.3"/><circle cx="489.1" cy="334.9" r="2.3"/><circle cx="490.1" cy="337.3" r="2.3"/><circle cx="490.0" cy="338.8" r="2.3"/><circle cx="491.4" cy="335.7" r="2.3"/><circle cx="491.5" cy="336.5" r="2.3"/><circle cx="491.2" cy="338.5" r="2.3"/><circle cx="492.8" cy="335.1" r="2.3"/><circle cx="492.6" cy="337.4" r="2.3"/><circle cx="492.7" cy="338.5" r="2.3"/><circle cx="494.1" cy="335.2" r="2.3"/><circle cx="494.6" cy="336.8" r="2.3"/><circle cx="493.9" cy="338.8" r="2.3"/><circle cx="495.2" cy="335.4" r="2.3"/><circle cx="496.1" cy="337.0" r="2.3"/><circle cx="495.4" cy="338.7" r="2.3"/><circle cx="497.1" cy="334.9" r="2.3"/><circle cx="496.7" cy="336.6" r="2.3"/><circle cx="496.9" cy="338.6" r="2.3"/><circle cx="498.4" cy="335.0" r="2.3"/><circle cx="498.2" cy="337.0" r="2.3"/><circle cx="498.9" cy="338.8" r="2.3"/><circle cx="500.2" cy="335.5" r="2.3"/><circle cx="499.8" cy="337.2" r="2.3"/><circle cx="500.1" cy="338.7" r="2.3"/><circle cx="501.7" cy="335.3" r="2.3"/><circle cx="501.4" cy="336.7" r="2.3"/><circle cx="501.3" cy="338.7" r="2.3"/><circle cx="503.0" cy="335.4" r="2.3"/><circle cx="502.6" cy="336.9" r="2.3"/><circle cx="503.5" cy="338.4" r="2.3"/><circle cx="491.1" cy="333.2" r="2.3"/><circle cx="483.1" cy="334.6" r="2.3"/><circle cx="483.4" cy="334.0" r="2.3"/><circle cx="479.4" cy="332.0" r="2.3"/><circle cx="500.4" cy="333.0" r="2.3"/><circle cx="476.5" cy="332.9" r="2.3"/><circle cx="487.7" cy="333.9" r="2.3"/><circle cx="477.9" cy="332.4" r="2.3"/><circle cx="503.0" cy="333.9" r="2.3"/><circle cx="479.3" cy="332.7" r="2.3"/><circle cx="485.1" cy="333.7" r="2.3"/><circle cx="492.9" cy="334.2" r="2.3"/><circle cx="498.9" cy="333.2" r="2.3"/><circle cx="496.5" cy="333.9" r="2.3"/><circle cx="497.1" cy="330.2" r="2.3"/><circle cx="497.9" cy="330.9" r="2.3"/><circle cx="501.7" cy="329.2" r="2.3"/><circle cx="500.4" cy="328.8" r="2.3"/>
</g>
<g fill="#d0d0d0">
<polygon points="506.4,336.1 532.1,336.6 532.1,342 506.4,342"/>
<circle cx="508.8" cy="335.9" r="2.3"/><circle cx="508.5" cy="338.0" r="2.3"/><circle cx="508.6" cy="339.2" r="2.3"/><circle cx="510.3" cy="336.2" r="2.3"/><circle cx="510.1" cy="337.4" r="2.3"/><circle cx="510.0" cy="339.2" r="2.3"/><circle cx="511.7" cy="335.7" r="2.3"/><circle cx="511.4" cy="337.7" r="2.3"/><circle cx="511.4" cy="339.1" r="2.3"/><circle cx="513.3" cy="336.3" r="2.3"/><circle cx="513.0" cy="337.6" r="2.3"/><circle cx="512.7" cy="339.1" r="2.3"/><circle cx="514.1" cy="336.0" r="2.3"/><circle cx="514.6" cy="337.2" r="2.3"/><circle cx="514.9" cy="339.2" r="2.3"/><circle cx="516.3" cy="336.3" r="2.3"/><circle cx="516.5" cy="337.4" r="2.3"/><circle cx="515.9" cy="339.8" r="2.3"/><circle cx="517.0" cy="335.6" r="2.3"/><circle cx="517.6" cy="337.7" r="2.3"/><circle cx="517.9" cy="339.7" r="2.3"/><circle cx="519.0" cy="336.5" r="2.3"/><circle cx="519.0" cy="337.8" r="2.3"/><circle cx="519.2" cy="339.3" r="2.3"/><circle cx="520.4" cy="336.2" r="2.3"/><circle cx="520.4" cy="338.2" r="2.3"/><circle cx="520.7" cy="339.5" r="2.3"/><circle cx="521.6" cy="336.0" r="2.3"/><circle cx="521.9" cy="337.9" r="2.3"/><circle cx="522.1" cy="339.9" r="2.3"/><circle cx="524.0" cy="336.1" r="2.3"/><circle cx="523.4" cy="338.0" r="2.3"/><circle cx="524.0" cy="339.4" r="2.3"/><circle cx="525.0" cy="336.5" r="2.3"/><circle cx="524.7" cy="337.7" r="2.3"/><circle cx="525.5" cy="339.9" r="2.3"/><circle cx="526.5" cy="335.8" r="2.3"/><circle cx="526.9" cy="338.1" r="2.3"/><circle cx="526.8" cy="340.1" r="2.3"/><circle cx="528.4" cy="336.1" r="2.3"/><circle cx="527.7" cy="337.7" r="2.3"/><circle cx="528.0" cy="339.6" r="2.3"/><circle cx="529.2" cy="335.9" r="2.3"/><circle cx="529.6" cy="338.1" r="2.3"/><circle cx="529.4" cy="340.1" r="2.3"/><circle cx="522.2" cy="332.7" r="2.3"/><circle cx="517.4" cy="334.7" r="2.3"/><circle cx="515.1" cy="334.4" r="2.3"/><circle cx="508.7" cy="333.2" r="2.3"/><circle cx="526.5" cy="334.3" r="2.3"/><circle cx="522.8" cy="333.2" r="2.3"/><circle cx="519.2" cy="334.1" r="2.3"/><circle cx="514.3" cy="334.3" r="2.3"/><circle cx="519.9" cy="335.4" r="2.3"/><circle cx="520.8" cy="333.7" r="2.3"/><circle cx="511.2" cy="329.9" r="2.3"/><circle cx="524.8" cy="330.0" r="2.3"/><circle cx="510.7" cy="329.9" r="2.3"/>
</g>
<g fill="#dca8b3">
<polygon points="532.1,336.1 555.7,335.1 555.7,342 532.1,342"/>
<circle cx="534.2" cy="336.0" r="2.3"/><circle cx="534.3" cy="337.7" r="2.3"/><circle cx="533.8" cy="338.6" r="2.3"/><circle cx="536.0" cy="335.5" r="2.3"/><circle cx="535.9" cy="337.2" r="2.3"/><circle cx="535.4" cy="338.8" r="2.3"/><circle cx="536.8" cy="336.0" r="2.3"/><circle cx="537.3" cy="337.1" r="2.3"/><circle cx="537.1" cy="338.9" r="2.3"/><circle cx="538.3" cy="335.9" r="2.3"/><circle cx="538.8" cy="337.7" r="2.3"/><circle cx="538.6" cy="339.0" r="2.3"/><circle cx="539.9" cy="335.0" r="2.3"/><circle cx="540.6" cy="337.5" r="2.3"/><circle cx="540.0" cy="339.3" r="2.3"/><circle cx="542.0" cy="335.2" r="2.3"/><circle cx="541.8" cy="337.6" r="2.3"/><circle cx="541.7" cy="339.2" r="2.3"/><circle cx="542.9" cy="335.2" r="2.3"/><circle cx="543.4" cy="336.8" r="2.3"/><circle cx="543.0" cy="339.1" r="2.3"/><circle cx="544.7" cy="335.6" r="2.3"/><circle cx="544.4" cy="336.6" r="2.3"/><circle cx="544.6" cy="338.4" r="2.3"/><circle cx="546.7" cy="335.0" r="2.3"/><circle cx="546.3" cy="336.5" r="2.3"/><circle cx="546.2" cy="338.5" r="2.3"/><circle cx="547.6" cy="334.7" r="2.3"/><circle cx="547.3" cy="337.2" r="2.3"/><circle cx="547.6" cy="338.3" r="2.3"/><circle cx="548.9" cy="334.9" r="2.3"/><circle cx="548.9" cy="336.3" r="2.3"/><circle cx="549.4" cy="338.3" r="2.3"/><circle cx="550.4" cy="335.2" r="2.3"/><circle cx="550.3" cy="336.5" r="2.3"/><circle cx="551.0" cy="338.0" r="2.3"/><circle cx="552.1" cy="335.3" r="2.3"/><circle cx="552.5" cy="336.3" r="2.3"/><circle cx="552.1" cy="338.6" r="2.3"/><circle cx="541.5" cy="334.6" r="2.3"/><circle cx="538.3" cy="334.7" r="2.3"/><circle cx="544.0" cy="332.4" r="2.3"/><circle cx="543.0" cy="332.2" r="2.3"/><circle cx="547.9" cy="332.4" r="2.3"/><circle cx="551.6" cy="333.1" r="2.3"/><circle cx="541.4" cy="332.6" r="2.3"/><circle cx="546.0" cy="332.3" r="2.3"/><circle cx="551.0" cy="331.8" r="2.3"/><circle cx="544.2" cy="330.4" r="2.3"/><circle cx="539.5" cy="331.3" r="2.3"/><circle cx="541.7" cy="330.9" r="2.3"/>
</g>
<g fill="#d0d0d0">
<polygon points="555.7,335.1 562.0,334.6 566.0,329.6 570.0,329.6 572.0,332.1 574.4,332.1 574.4,342 555.7,342"/>
<circle cx="557.9" cy="334.4" r="2.3"/><circle cx="557.7" cy="335.9" r="2.3"/><circle cx="557.5" cy="338.4" r="2.3"/><circle cx="557.6" cy="339.9" r="2.3"/><circle cx="558.9" cy="334.6" r="2.3"/><circle cx="559.2" cy="336.2" r="2.3"/><circle cx="559.1" cy="337.5" r="2.3"/><circle cx="559.1" cy="339.3" r="2.3"/><circle cx="560.4" cy="334.6" r="2.3"/><circle cx="560.6" cy="336.0" r="2.3"/><circle cx="561.2" cy="338.1" r="2.3"/><circle cx="561.2" cy="339.9" r="2.3"/><circle cx="561.9" cy="333.7" r="2.3"/><circle cx="561.8" cy="335.8" r="2.3"/><circle cx="562.5" cy="337.2" r="2.3"/><circle cx="562.2" cy="339.2" r="2.3"/><circle cx="564.0" cy="331.8" r="2.3"/><circle cx="564.1" cy="333.6" r="2.3"/><circle cx="563.9" cy="335.1" r="2.3"/><circle cx="563.4" cy="337.6" r="2.3"/><circle cx="564.0" cy="339.1" r="2.3"/><circle cx="564.8" cy="329.7" r="2.3"/><circle cx="565.0" cy="331.6" r="2.3"/><circle cx="565.1" cy="333.5" r="2.3"/><circle cx="564.8" cy="335.1" r="2.3"/><circle cx="565.4" cy="336.7" r="2.3"/><circle cx="565.6" cy="338.7" r="2.3"/><circle cx="567.0" cy="329.1" r="2.3"/><circle cx="566.7" cy="331.2" r="2.3"/><circle cx="566.6" cy="332.2" r="2.3"/><circle cx="567.1" cy="334.7" r="2.3"/><circle cx="566.6" cy="335.6" r="2.3"/><circle cx="567.2" cy="337.9" r="2.3"/><circle cx="566.3" cy="339.2" r="2.3"/><circle cx="567.9" cy="329.6" r="2.3"/><circle cx="568.0" cy="331.4" r="2.3"/><circle cx="568.5" cy="332.3" r="2.3"/><circle cx="568.5" cy="334.3" r="2.3"/><circle cx="568.5" cy="336.4" r="2.3"/><circle cx="568.1" cy="337.4" r="2.3"/><circle cx="568.7" cy="339.4" r="2.3"/><circle cx="570.2" cy="329.5" r="2.3"/><circle cx="570.0" cy="331.3" r="2.3"/><circle cx="569.9" cy="332.7" r="2.3"/><circle cx="569.4" cy="334.6" r="2.3"/><circle cx="569.7" cy="336.1" r="2.3"/><circle cx="570.2" cy="337.4" r="2.3"/><circle cx="570.1" cy="339.0" r="2.3"/><circle cx="571.5" cy="331.2" r="2.3"/><circle cx="571.1" cy="332.7" r="2.3"/><circle cx="571.8" cy="334.5" r="2.3"/><circle cx="571.3" cy="335.8" r="2.3"/><circle cx="570.9" cy="337.6" r="2.3"/><circle cx="571.2" cy="339.1" r="2.3"/><circle cx="562.3" cy="330.8" r="2.3"/><circle cx="568.0" cy="327.7" r="2.3"/><circle cx="561.3" cy="331.5" r="2.3"/><circle cx="565.3" cy="328.0" r="2.3"/><circle cx="571.3" cy="328.4" r="2.3"/><circle cx="562.2" cy="333.1" r="2.3"/><circle cx="559.9" cy="332.5" r="2.3"/><circle cx="562.7" cy="329.4" r="2.3"/><circle cx="565.7" cy="325.4" r="2.3"/>
</g>
<g fill="#dca8b3">
<polygon points="574.4,331.1 579.0,331.6 580.5,335.6 594.9,335.6 594.9,342 574.4,342"/>
<circle cx="576.2" cy="331.2" r="2.3"/><circle cx="576.6" cy="332.7" r="2.3"/><circle cx="576.8" cy="334.8" r="2.3"/><circle cx="576.1" cy="335.9" r="2.3"/><circle cx="576.4" cy="337.5" r="2.3"/><circle cx="576.1" cy="339.3" r="2.3"/><circle cx="577.7" cy="331.4" r="2.3"/><circle cx="577.9" cy="332.5" r="2.3"/><circle cx="577.8" cy="334.6" r="2.3"/><circle cx="577.9" cy="336.0" r="2.3"/><circle cx="577.6" cy="337.5" r="2.3"/><circle cx="578.5" cy="339.9" r="2.3"/><circle cx="579.1" cy="332.9" r="2.3"/><circle cx="580.0" cy="334.4" r="2.3"/><circle cx="579.1" cy="336.0" r="2.3"/><circle cx="579.4" cy="337.4" r="2.3"/><circle cx="579.5" cy="338.9" r="2.3"/><circle cx="581.4" cy="335.4" r="2.3"/><circle cx="581.1" cy="337.4" r="2.3"/><circle cx="581.2" cy="338.5" r="2.3"/><circle cx="582.2" cy="334.9" r="2.3"/><circle cx="582.0" cy="337.3" r="2.3"/><circle cx="582.8" cy="338.5" r="2.3"/><circle cx="583.7" cy="335.4" r="2.3"/><circle cx="584.3" cy="337.4" r="2.3"/><circle cx="583.7" cy="339.0" r="2.3"/><circle cx="585.8" cy="335.5" r="2.3"/><circle cx="585.3" cy="336.7" r="2.3"/><circle cx="585.8" cy="338.5" r="2.3"/><circle cx="586.9" cy="335.4" r="2.3"/><circle cx="586.9" cy="337.3" r="2.3"/><circle cx="586.7" cy="338.2" r="2.3"/><circle cx="588.6" cy="335.4" r="2.3"/><circle cx="588.8" cy="337.2" r="2.3"/><circle cx="588.9" cy="339.1" r="2.3"/><circle cx="590.0" cy="335.3" r="2.3"/><circle cx="589.7" cy="336.8" r="2.3"/><circle cx="590.1" cy="338.3" r="2.3"/><circle cx="591.7" cy="335.0" r="2.3"/><circle cx="591.4" cy="337.5" r="2.3"/><circle cx="591.1" cy="338.2" r="2.3"/><circle cx="583.7" cy="332.3" r="2.3"/><circle cx="588.2" cy="331.8" r="2.3"/><circle cx="590.1" cy="334.2" r="2.3"/><circle cx="589.3" cy="333.0" r="2.3"/><circle cx="581.2" cy="333.7" r="2.3"/><circle cx="584.9" cy="333.0" r="2.3"/><circle cx="582.1" cy="333.0" r="2.3"/><circle cx="587.3" cy="334.1" r="2.3"/><circle cx="591.2" cy="329.3" r="2.3"/><circle cx="581.4" cy="330.1" r="2.3"/>
</g>
<g fill="#d0d0d0">
<polygon points="594.9,330.1 612.4,329.6 612.4,342 594.9,342"/>
<circle cx="597.1" cy="329.6" r="2.3"/><circle cx="596.7" cy="331.0" r="2.3"/><circle cx="596.8" cy="333.1" r="2.3"/><circle cx="597.5" cy="335.2" r="2.3"/><circle cx="597.4" cy="337.0" r="2.3"/><circle cx="597.5" cy="338.4" r="2.3"/><circle cx="597.3" cy="339.5" r="2.3"/><circle cx="598.7" cy="329.8" r="2.3"/><circle cx="598.3" cy="331.5" r="2.3"/><circle cx="599.0" cy="333.1" r="2.3"/><circle cx="598.6" cy="334.6" r="2.3"/><circle cx="598.3" cy="336.9" r="2.3"/><circle cx="598.0" cy="337.9" r="2.3"/><circle cx="598.7" cy="339.8" r="2.3"/><circle cx="599.6" cy="329.8" r="2.3"/><circle cx="599.9" cy="331.4" r="2.3"/><circle cx="599.9" cy="333.1" r="2.3"/><circle cx="600.1" cy="334.7" r="2.3"/><circle cx="599.6" cy="336.1" r="2.3"/><circle cx="600.4" cy="338.2" r="2.3"/><circle cx="599.6" cy="340.2" r="2.3"/><circle cx="601.3" cy="329.2" r="2.3"/><circle cx="601.5" cy="331.1" r="2.3"/><circle cx="601.5" cy="333.1" r="2.3"/><circle cx="601.2" cy="334.8" r="2.3"/><circle cx="601.1" cy="336.4" r="2.3"/><circle cx="601.6" cy="337.7" r="2.3"/><circle cx="601.4" cy="339.4" r="2.3"/><circle cx="602.9" cy="329.9" r="2.3"/><circle cx="603.1" cy="331.5" r="2.3"/><circle cx="603.3" cy="332.6" r="2.3"/><circle cx="603.5" cy="334.9" r="2.3"/><circle cx="602.6" cy="336.7" r="2.3"/><circle cx="602.9" cy="337.7" r="2.3"/><circle cx="603.5" cy="339.8" r="2.3"/><circle cx="604.8" cy="329.2" r="2.3"/><circle cx="604.8" cy="330.8" r="2.3"/><circle cx="604.2" cy="332.8" r="2.3"/><circle cx="604.0" cy="334.7" r="2.3"/><circle cx="604.2" cy="336.1" r="2.3"/><circle cx="604.7" cy="338.0" r="2.3"/><circle cx="604.9" cy="339.8" r="2.3"/><circle cx="606.4" cy="329.5" r="2.3"/><circle cx="606.4" cy="331.6" r="2.3"/><circle cx="605.7" cy="333.1" r="2.3"/><circle cx="605.8" cy="334.8" r="2.3"/><circle cx="606.2" cy="336.6" r="2.3"/><circle cx="605.6" cy="337.9" r="2.3"/><circle cx="606.2" cy="340.1" r="2.3"/><circle cx="607.7" cy="329.0" r="2.3"/><circle cx="607.6" cy="330.7" r="2.3"/><circle cx="607.5" cy="333.1" r="2.3"/><circle cx="607.1" cy="335.0" r="2.3"/><circle cx="607.7" cy="336.0" r="2.3"/><circle cx="607.2" cy="337.9" r="2.3"/><circle cx="607.8" cy="339.7" r="2.3"/><circle cx="608.6" cy="328.9" r="2.3"/><circle cx="608.6" cy="331.4" r="2.3"/><circle cx="608.7" cy="332.9" r="2.3"/><circle cx="608.8" cy="334.7" r="2.3"/><circle cx="608.9" cy="335.8" r="2.3"/><circle cx="609.4" cy="337.9" r="2.3"/><circle cx="609.2" cy="339.9" r="2.3"/><circle cx="609.5" cy="325.9" r="2.3"/><circle cx="601.6" cy="326.5" r="2.3"/><circle cx="603.7" cy="328.5" r="2.3"/><circle cx="607.6" cy="326.0" r="2.3"/><circle cx="599.5" cy="328.5" r="2.3"/><circle cx="606.0" cy="327.1" r="2.3"/><circle cx="603.3" cy="326.5" r="2.3"/><circle cx="608.2" cy="324.1" r="2.3"/><circle cx="608.5" cy="324.7" r="2.3"/>
</g>
<g fill="#dca8b3">
<polygon points="612.4,336.6 629.7,337.1 629.7,342 612.4,342"/>
<circle cx="614.1" cy="336.2" r="2.3"/><circle cx="614.2" cy="338.5" r="2.3"/><circle cx="614.6" cy="339.3" r="2.3"/><circle cx="615.7" cy="336.3" r="2.3"/><circle cx="616.0" cy="338.2" r="2.3"/><circle cx="615.9" cy="339.7" r="2.3"/><circle cx="617.0" cy="336.5" r="2.3"/><circle cx="617.3" cy="337.7" r="2.3"/><circle cx="617.5" cy="340.3" r="2.3"/><circle cx="618.5" cy="336.1" r="2.3"/><circle cx="619.2" cy="338.0" r="2.3"/><circle cx="618.8" cy="339.9" r="2.3"/><circle cx="620.3" cy="336.6" r="2.3"/><circle cx="620.5" cy="338.7" r="2.3"/><circle cx="621.0" cy="339.5" r="2.3"/><circle cx="622.1" cy="336.8" r="2.3"/><circle cx="622.4" cy="338.6" r="2.3"/><circle cx="622.1" cy="340.1" r="2.3"/><circle cx="623.4" cy="336.4" r="2.3"/><circle cx="623.8" cy="338.7" r="2.3"/><circle cx="625.4" cy="336.8" r="2.3"/><circle cx="624.8" cy="338.6" r="2.3"/><circle cx="626.7" cy="336.7" r="2.3"/><circle cx="626.6" cy="338.3" r="2.3"/><circle cx="621.7" cy="334.2" r="2.3"/><circle cx="615.4" cy="333.8" r="2.3"/><circle cx="618.8" cy="335.8" r="2.3"/><circle cx="620.8" cy="334.1" r="2.3"/><circle cx="617.7" cy="333.6" r="2.3"/><circle cx="619.1" cy="333.4" r="2.3"/><circle cx="614.7" cy="335.3" r="2.3"/><circle cx="620.4" cy="331.4" r="2.3"/><circle cx="621.9" cy="331.0" r="2.3"/>
</g>
<g fill="#d0d0d0">
<polygon points="629.7,333.1 632.0,332.6 633.0,326.6 637.0,326.6 638.0,331.1 642.7,331.6 642.7,342 629.7,342"/>
<circle cx="631.5" cy="331.9" r="2.3"/><circle cx="631.6" cy="333.9" r="2.3"/><circle cx="632.0" cy="335.8" r="2.3"/><circle cx="632.2" cy="337.3" r="2.3"/><circle cx="632.2" cy="339.2" r="2.3"/><circle cx="632.9" cy="326.0" r="2.3"/><circle cx="633.4" cy="328.5" r="2.3"/><circle cx="633.2" cy="330.0" r="2.3"/><circle cx="633.2" cy="331.8" r="2.3"/><circle cx="632.9" cy="333.1" r="2.3"/><circle cx="633.7" cy="334.6" r="2.3"/><circle cx="633.1" cy="336.0" r="2.3"/><circle cx="633.0" cy="338.0" r="2.3"/><circle cx="633.5" cy="339.6" r="2.3"/><circle cx="634.7" cy="326.0" r="2.3"/><circle cx="634.9" cy="328.4" r="2.3"/><circle cx="634.9" cy="329.4" r="2.3"/><circle cx="635.0" cy="331.9" r="2.3"/><circle cx="634.9" cy="332.7" r="2.3"/><circle cx="635.1" cy="335.2" r="2.3"/><circle cx="634.6" cy="336.1" r="2.3"/><circle cx="634.5" cy="338.2" r="2.3"/><circle cx="635.2" cy="340.0" r="2.3"/><circle cx="636.7" cy="326.0" r="2.3"/><circle cx="636.1" cy="328.2" r="2.3"/><circle cx="636.4" cy="329.6" r="2.3"/><circle cx="636.5" cy="331.2" r="2.3"/><circle cx="635.9" cy="333.0" r="2.3"/><circle cx="635.8" cy="334.9" r="2.3"/><circle cx="636.1" cy="336.5" r="2.3"/><circle cx="636.4" cy="338.0" r="2.3"/><circle cx="636.3" cy="339.4" r="2.3"/><circle cx="638.2" cy="330.0" r="2.3"/><circle cx="638.3" cy="331.2" r="2.3"/><circle cx="637.9" cy="333.5" r="2.3"/><circle cx="637.6" cy="334.6" r="2.3"/><circle cx="637.5" cy="336.3" r="2.3"/><circle cx="638.1" cy="338.0" r="2.3"/><circle cx="639.6" cy="330.9" r="2.3"/><circle cx="639.3" cy="332.7" r="2.3"/><circle cx="639.4" cy="334.5" r="2.3"/><circle cx="639.4" cy="335.9" r="2.3"/><circle cx="639.5" cy="337.5" r="2.3"/><circle cx="639.5" cy="339.7" r="2.3"/><circle cx="638.6" cy="328.2" r="2.3"/><circle cx="638.5" cy="330.1" r="2.3"/><circle cx="635.8" cy="323.6" r="2.3"/><circle cx="636.4" cy="325.4" r="2.3"/><circle cx="633.0" cy="322.8" r="2.3"/><circle cx="636.0" cy="321.8" r="2.3"/>
</g>
<g fill="#dca8b3">
<polygon points="642.7,334.1 660.0,334.6 660.0,342 642.7,342"/>
<circle cx="645.1" cy="333.7" r="2.3"/><circle cx="645.3" cy="335.3" r="2.3"/><circle cx="645.1" cy="336.9" r="2.3"/><circle cx="644.3" cy="338.6" r="2.3"/><circle cx="645.9" cy="333.9" r="2.3"/><circle cx="646.4" cy="335.3" r="2.3"/><circle cx="646.7" cy="337.2" r="2.3"/><circle cx="645.9" cy="338.7" r="2.3"/><circle cx="648.0" cy="334.4" r="2.3"/><circle cx="647.5" cy="335.2" r="2.3"/><circle cx="648.1" cy="337.1" r="2.3"/><circle cx="648.3" cy="339.0" r="2.3"/><circle cx="649.4" cy="333.8" r="2.3"/><circle cx="649.6" cy="335.7" r="2.3"/><circle cx="649.1" cy="337.8" r="2.3"/><circle cx="648.9" cy="339.3" r="2.3"/><circle cx="650.4" cy="334.2" r="2.3"/><circle cx="650.7" cy="336.1" r="2.3"/><circle cx="650.4" cy="337.5" r="2.3"/><circle cx="650.7" cy="339.6" r="2.3"/><circle cx="652.7" cy="334.2" r="2.3"/><circle cx="652.0" cy="335.5" r="2.3"/><circle cx="652.1" cy="337.4" r="2.3"/><circle cx="652.0" cy="338.9" r="2.3"/><circle cx="654.1" cy="334.3" r="2.3"/><circle cx="653.6" cy="336.3" r="2.3"/><circle cx="653.5" cy="337.6" r="2.3"/><circle cx="653.5" cy="339.6" r="2.3"/><circle cx="655.7" cy="333.9" r="2.3"/><circle cx="655.6" cy="336.2" r="2.3"/><circle cx="655.1" cy="337.4" r="2.3"/><circle cx="655.3" cy="339.7" r="2.3"/><circle cx="656.5" cy="334.4" r="2.3"/><circle cx="656.9" cy="335.9" r="2.3"/><circle cx="656.9" cy="338.0" r="2.3"/><circle cx="656.5" cy="339.7" r="2.3"/><circle cx="649.5" cy="332.7" r="2.3"/><circle cx="656.0" cy="331.2" r="2.3"/><circle cx="656.0" cy="333.5" r="2.3"/><circle cx="648.7" cy="330.5" r="2.3"/><circle cx="646.3" cy="333.1" r="2.3"/><circle cx="645.0" cy="332.9" r="2.3"/><circle cx="646.8" cy="332.5" r="2.3"/><circle cx="646.2" cy="327.9" r="2.3"/><circle cx="653.7" cy="327.9" r="2.3"/>
</g>
<g fill="#d0d0d0">
<polygon points="660.0,338.1 664.5,338.1 666.0,332.1 671.1,332.1 671.1,342 660.0,342"/>
<circle cx="661.9" cy="338.2" r="2.3"/><circle cx="662.3" cy="339.9" r="2.3"/><circle cx="664.1" cy="337.3" r="2.3"/><circle cx="663.3" cy="339.8" r="2.3"/><circle cx="665.3" cy="334.9" r="2.3"/><circle cx="665.1" cy="336.8" r="2.3"/><circle cx="665.0" cy="338.4" r="2.3"/><circle cx="666.1" cy="332.3" r="2.3"/><circle cx="666.4" cy="333.9" r="2.3"/><circle cx="666.2" cy="335.2" r="2.3"/><circle cx="666.2" cy="336.8" r="2.3"/><circle cx="666.3" cy="338.8" r="2.3"/><circle cx="667.7" cy="332.0" r="2.3"/><circle cx="668.1" cy="333.1" r="2.3"/><circle cx="668.0" cy="335.2" r="2.3"/><circle cx="668.5" cy="336.7" r="2.3"/><circle cx="667.8" cy="339.1" r="2.3"/><circle cx="668.1" cy="330.3" r="2.3"/><circle cx="664.0" cy="334.8" r="2.3"/><circle cx="664.0" cy="334.5" r="2.3"/><circle cx="662.5" cy="335.7" r="2.3"/><circle cx="664.9" cy="331.2" r="2.3"/>
</g>
<g fill="#dca8b3">
<polygon points="671.1,332.6 683.1,333.1 683.1,342 671.1,342"/>
<circle cx="673.1" cy="331.9" r="2.3"/><circle cx="673.4" cy="334.2" r="2.3"/><circle cx="673.2" cy="335.8" r="2.3"/><circle cx="673.4" cy="338.0" r="2.3"/><circle cx="673.6" cy="339.4" r="2.3"/><circle cx="674.6" cy="332.3" r="2.3"/><circle cx="674.6" cy="334.6" r="2.3"/><circle cx="674.6" cy="335.7" r="2.3"/><circle cx="674.6" cy="337.2" r="2.3"/><circle cx="675.2" cy="338.8" r="2.3"/><circle cx="676.3" cy="332.9" r="2.3"/><circle cx="676.0" cy="334.3" r="2.3"/><circle cx="676.1" cy="335.7" r="2.3"/><circle cx="675.9" cy="337.2" r="2.3"/><circle cx="676.5" cy="339.6" r="2.3"/><circle cx="678.1" cy="332.1" r="2.3"/><circle cx="677.9" cy="334.1" r="2.3"/><circle cx="677.8" cy="336.0" r="2.3"/><circle cx="677.5" cy="338.1" r="2.3"/><circle cx="677.2" cy="339.6" r="2.3"/><circle cx="679.6" cy="332.6" r="2.3"/><circle cx="679.3" cy="334.8" r="2.3"/><circle cx="678.9" cy="336.2" r="2.3"/><circle cx="679.4" cy="337.6" r="2.3"/><circle cx="679.4" cy="339.3" r="2.3"/><circle cx="680.7" cy="332.8" r="2.3"/><circle cx="680.9" cy="334.2" r="2.3"/><circle cx="680.8" cy="336.1" r="2.3"/><circle cx="680.4" cy="337.9" r="2.3"/><circle cx="680.5" cy="339.9" r="2.3"/><circle cx="676.9" cy="331.1" r="2.3"/><circle cx="677.3" cy="330.4" r="2.3"/><circle cx="675.0" cy="329.4" r="2.3"/><circle cx="680.3" cy="330.7" r="2.3"/><circle cx="677.3" cy="330.5" r="2.3"/><circle cx="679.5" cy="326.9" r="2.3"/>
</g>
<g fill="#d5d5d5"><circle cx="47.7" cy="319" r="2.3"/><circle cx="50" cy="320.8" r="2.3"/><circle cx="44.8" cy="324.3" r="2.3"/><circle cx="47.1" cy="326.6" r="2.3"/><circle cx="41.8" cy="329.5" r="2.3"/><circle cx="50" cy="330.7" r="2.3"/><circle cx="63.1" cy="320.5" r="2.3"/><circle cx="74.5" cy="319.9" r="2.3"/><circle cx="78.3" cy="320.2" r="2.3"/><circle cx="66.6" cy="326" r="2.3"/><circle cx="64.6" cy="327.8" r="2.3"/><circle cx="61.5" cy="329.5" r="2.3"/><circle cx="75.1" cy="327.8" r="2.3"/><circle cx="74.5" cy="330.1" r="2.3"/><circle cx="80.4" cy="330.1" r="2.3"/><circle cx="86.2" cy="328.9" r="2.3"/><circle cx="90.9" cy="329.5" r="2.3"/><circle cx="96.1" cy="327" r="2.3"/><circle cx="160" cy="319.2" r="2.3"/><circle cx="162.8" cy="320.2" r="2.3"/><circle cx="178.9" cy="321.6" r="2.3"/><circle cx="178.9" cy="324.3" r="2.3"/><circle cx="177.7" cy="327.2" r="2.3"/><circle cx="162" cy="327.2" r="2.3"/><circle cx="155.9" cy="329.2" r="2.3"/><circle cx="173.1" cy="328.9" r="2.3"/><circle cx="164.9" cy="330.7" r="2.3"/><circle cx="181.2" cy="329.5" r="2.3"/><circle cx="188.8" cy="328.7" r="2.3"/><circle cx="87.5" cy="313.5" r="2.3"/><circle cx="243.9" cy="318.7" r="2.3"/><circle cx="256.4" cy="314.4" r="2.3"/><circle cx="275.9" cy="312.5" r="2.3"/><circle cx="267.4" cy="320.6" r="2.3"/><circle cx="262.3" cy="322.9" r="2.3"/><circle cx="251.9" cy="324.5" r="2.3"/><circle cx="253.5" cy="327.3" r="2.3"/><circle cx="258.3" cy="328.9" r="2.3"/><circle cx="266.3" cy="329.2" r="2.3"/><circle cx="272.6" cy="329.7" r="2.3"/><circle cx="243.9" cy="331.3" r="2.3"/><circle cx="316.7" cy="320.4" r="2.3"/><circle cx="323.8" cy="324.5" r="2.3"/><circle cx="340.2" cy="314.1" r="2.3"/><circle cx="344" cy="322.1" r="2.3"/><circle cx="339.7" cy="324.9" r="2.3"/><circle cx="333.3" cy="325.3" r="2.3"/><circle cx="331" cy="327.6" r="2.3"/><circle cx="348.5" cy="327.3" r="2.3"/><circle cx="319.8" cy="329.7" r="2.3"/><circle cx="383.9" cy="313" r="2.3"/><circle cx="409.1" cy="315.4" r="2.3"/><circle cx="412.3" cy="314.1" r="2.3"/><circle cx="410.7" cy="321.3" r="2.3"/><circle cx="401.1" cy="325.7" r="2.3"/><circle cx="410.7" cy="328.9" r="2.3"/><circle cx="399.5" cy="331.3" r="2.3"/><circle cx="390.8" cy="332.9" r="2.3"/><circle cx="457.8" cy="309.8" r="2.3"/><circle cx="457" cy="315.4" r="2.3"/><circle cx="458.6" cy="317.8" r="2.3"/><circle cx="472.2" cy="311.4" r="2.3"/><circle cx="470.4" cy="314.1" r="2.3"/><circle cx="446.7" cy="322.5" r="2.3"/><circle cx="449" cy="325.7" r="2.3"/><circle cx="445" cy="328" r="2.3"/><circle cx="469" cy="328.1" r="2.3"/><circle cx="527" cy="313" r="2.3"/><circle cx="562.6" cy="311.1" r="2.3"/><circle cx="520.5" cy="328.9" r="2.3"/><circle cx="513" cy="330.8" r="2.3"/><circle cx="529.7" cy="332.1" r="2.3"/><circle cx="569.6" cy="323.8" r="2.3"/><circle cx="565.6" cy="325.4" r="2.3"/><circle cx="559.2" cy="328.9" r="2.3"/><circle cx="599" cy="317.5" r="2.3"/><circle cx="603" cy="315.7" r="2.3"/><circle cx="597.6" cy="325" r="2.3"/><circle cx="632.8" cy="315.3" r="2.3"/><circle cx="639.3" cy="314.8" r="2.3"/><circle cx="633.6" cy="321" r="2.3"/><circle cx="636" cy="319.4" r="2.3"/><circle cx="634.4" cy="324.1" r="2.3"/><circle cx="640.8" cy="325.7" r="2.3"/><circle cx="667.2" cy="316.6" r="2.3"/><circle cx="666.3" cy="328.1" r="2.3"/><circle cx="668.7" cy="326.5" r="2.3"/><circle cx="662.4" cy="335.3" r="2.3"/></g>
<g fill="#e4b0bb"><circle cx="99.1" cy="321.9" r="2.3"/><circle cx="100.6" cy="319.9" r="2.3"/><circle cx="102.8" cy="327.2" r="2.3"/><circle cx="108.4" cy="330.7" r="2.3"/><circle cx="113.1" cy="332.8" r="2.3"/><circle cx="119.1" cy="321.9" r="2.3"/><circle cx="125.2" cy="322.9" r="2.3"/><circle cx="123.4" cy="326.3" r="2.3"/><circle cx="141.8" cy="327" r="2.3"/><circle cx="130.4" cy="328.9" r="2.3"/><circle cx="134.5" cy="329.2" r="2.3"/><circle cx="148.5" cy="329.3" r="2.3"/><circle cx="119.1" cy="330.5" r="2.3"/><circle cx="125" cy="331" r="2.3"/><circle cx="112.9" cy="332.8" r="2.3"/><circle cx="96.8" cy="310.5" r="2.3"/><circle cx="114.6" cy="310.7" r="2.3"/><circle cx="220.1" cy="316.3" r="2.3"/><circle cx="210.3" cy="322.9" r="2.3"/><circle cx="198" cy="324.9" r="2.3"/><circle cx="200" cy="329" r="2.3"/><circle cx="204.7" cy="330.2" r="2.3"/><circle cx="213.5" cy="330.5" r="2.3"/><circle cx="235.2" cy="322.9" r="2.3"/><circle cx="226.4" cy="328.1" r="2.3"/><circle cx="231.2" cy="328.1" r="2.3"/><circle cx="284.6" cy="312.6" r="2.3"/><circle cx="311.9" cy="311.7" r="2.3"/><circle cx="287" cy="317.8" r="2.3"/><circle cx="284.1" cy="319.6" r="2.3"/><circle cx="293.4" cy="321" r="2.3"/><circle cx="288.6" cy="325.3" r="2.3"/><circle cx="285.4" cy="329" r="2.3"/><circle cx="304.5" cy="328.6" r="2.3"/><circle cx="294.2" cy="332" r="2.3"/><circle cx="311.7" cy="331.3" r="2.3"/><circle cx="373.4" cy="311.8" r="2.3"/><circle cx="373.4" cy="317.8" r="2.3"/><circle cx="380.1" cy="322.9" r="2.3"/><circle cx="376.4" cy="324.9" r="2.3"/><circle cx="358.9" cy="327.3" r="2.3"/><circle cx="366" cy="328.1" r="2.3"/><circle cx="354.9" cy="328.9" r="2.3"/><circle cx="370" cy="329.7" r="2.3"/><circle cx="374" cy="330.5" r="2.3"/><circle cx="379.6" cy="331.3" r="2.3"/><circle cx="443.4" cy="309.4" r="2.3"/><circle cx="417.2" cy="322.9" r="2.3"/><circle cx="426" cy="324.5" r="2.3"/><circle cx="437.9" cy="323.8" r="2.3"/><circle cx="440.3" cy="324.5" r="2.3"/><circle cx="488.1" cy="311" r="2.3"/><circle cx="474.6" cy="321" r="2.3"/><circle cx="477" cy="323.8" r="2.3"/><circle cx="479.4" cy="325.4" r="2.3"/><circle cx="486.2" cy="318.6" r="2.3"/><circle cx="487.4" cy="325.7" r="2.3"/><circle cx="491.3" cy="323.8" r="2.3"/><circle cx="500.1" cy="317.8" r="2.3"/><circle cx="499.3" cy="321.4" r="2.3"/><circle cx="500.9" cy="327.8" r="2.3"/><circle cx="491.3" cy="328.9" r="2.3"/><circle cx="486.9" cy="311.3" r="2.3"/><circle cx="498.9" cy="311.9" r="2.3"/><circle cx="485.7" cy="318.5" r="2.3"/><circle cx="537.4" cy="323.7" r="2.3"/><circle cx="541.4" cy="328.1" r="2.3"/><circle cx="546.8" cy="328.9" r="2.3"/><circle cx="552.5" cy="329.7" r="2.3"/><circle cx="536.9" cy="331.3" r="2.3"/><circle cx="577.6" cy="322.1" r="2.3"/><circle cx="576.8" cy="328.6" r="2.3"/><circle cx="583.1" cy="329" r="2.3"/><circle cx="592.7" cy="330.2" r="2.3"/><circle cx="616.9" cy="317" r="2.3"/><circle cx="624.1" cy="315.8" r="2.3"/><circle cx="621.7" cy="326.1" r="2.3"/><circle cx="617.7" cy="329.7" r="2.3"/><circle cx="624.1" cy="328.9" r="2.3"/><circle cx="645.6" cy="317" r="2.3"/><circle cx="655.5" cy="314.9" r="2.3"/><circle cx="658.4" cy="322.5" r="2.3"/><circle cx="651.2" cy="325.4" r="2.3"/><circle cx="644.8" cy="329.7" r="2.3"/><circle cx="674.8" cy="316.5" r="2.3"/><circle cx="675.1" cy="324.9" r="2.3"/><circle cx="679.1" cy="327.3" r="2.3"/></g>
<polygon points="69.2,333.5 70.9,333.5 70.3,342 69.8,342" fill="#fff"/>
<polygon points="394.6,331 396.9,331 396.2,342 395.4,342" fill="#fff"/>
</g>
<line x1="38.7" x2="685" y1="309.2" y2="309.2" stroke="#c6c6c6" stroke-width="1" stroke-dasharray="6 5.758"/>
<line x1="38.7" x2="685" y1="278.3" y2="278.3" stroke="#6a6a6a" stroke-width="1.35" stroke-dasharray="6 5.758"/>
<g fill="#9c5c85"><circle cx="43.4" cy="283.4" r="3"/><circle cx="45.0" cy="290.1" r="3"/><circle cx="41.4" cy="306.9" r="3"/><circle cx="86.1" cy="296.6" r="3"/><circle cx="86.5" cy="305.1" r="3"/><circle cx="77.9" cy="308.6" r="3"/><circle cx="107.9" cy="295.8" r="3"/><circle cx="146.9" cy="287.4" r="3"/><circle cx="139.6" cy="291.2" r="3"/><circle cx="134" cy="298.4" r="3"/><circle cx="162.7" cy="294.9" r="3"/><circle cx="153.1" cy="303.5" r="3"/><circle cx="148.9" cy="305.9" r="3"/><circle cx="194.8" cy="297.3" r="3"/><circle cx="195.4" cy="305.3" r="3"/><circle cx="211.3" cy="299.4" r="3"/><circle cx="240.6" cy="292.2" r="3"/><circle cx="244.2" cy="293.4" r="3"/><circle cx="248.4" cy="304.5" r="3"/><circle cx="302.3" cy="307.4" r="3"/><circle cx="344.1" cy="294.2" r="3"/><circle cx="333.4" cy="302" r="3"/><circle cx="337.8" cy="306.5" r="3"/><circle cx="414.3" cy="278.2" r="3"/><circle cx="459.5" cy="281" r="3"/><circle cx="402.6" cy="307.1" r="3"/><circle cx="412.3" cy="307.7" r="3"/><circle cx="444.9" cy="304.1" r="3"/><circle cx="487.3" cy="304.7" r="3"/><circle cx="500.7" cy="308.9" r="3"/><circle cx="504.1" cy="308.1" r="3"/><circle cx="545.4" cy="308.1" r="3"/><circle cx="550.8" cy="305.9" r="3"/><circle cx="570.7" cy="300.6" r="3"/><circle cx="571.3" cy="302.6" r="3"/><circle cx="576.9" cy="298.8" r="3"/><circle cx="579.1" cy="301.4" r="3"/><circle cx="577.2" cy="307.7" r="3"/><circle cx="597.5" cy="288.8" r="3"/><circle cx="597.9" cy="297.9" r="3"/><circle cx="596.7" cy="300.6" r="3"/><circle cx="609.7" cy="302.6" r="3"/><circle cx="632.8" cy="300" r="3"/><circle cx="634.9" cy="303.3" r="3"/><circle cx="679" cy="285.3" r="3"/></g>
<g fill="#1a1a1a" stroke="#1a1a1a" stroke-width="0.08" font-style="italic" font-size="3.7">
<text x="45.9" y="282.15" textLength="8.9" lengthAdjust="spacingAndGlyphs">KDR2</text>
<text x="47.6" y="295.65" textLength="9.4" lengthAdjust="spacingAndGlyphs">SPEN</text>
<text x="44.1" y="303.95" textLength="9.9" lengthAdjust="spacingAndGlyphs">AGRN</text>
<text x="72.3" y="293.55" textLength="11.0" lengthAdjust="spacingAndGlyphs">GPR33</text>
<text x="87.7" y="302.45" textLength="12.1" lengthAdjust="spacingAndGlyphs">KDM5B</text>
<text x="65.3" y="314.75" textLength="7.6" lengthAdjust="spacingAndGlyphs">PBX1</text>
<text x="109" y="292.85" textLength="11.8" lengthAdjust="spacingAndGlyphs">NRXN1</text>
<text x="150.1" y="284.75" textLength="9.0" lengthAdjust="spacingAndGlyphs">CUL3</text>
<text x="128" y="295.65" textLength="6.9" lengthAdjust="spacingAndGlyphs">DLX</text>
<text x="119.6" y="303.95" textLength="11.0" lengthAdjust="spacingAndGlyphs">SCN1A</text>
<text x="159.1" y="291.95" textLength="16.8" lengthAdjust="spacingAndGlyphs">CACNA1D</text>
<text x="154.6" y="300.75" textLength="11.7" lengthAdjust="spacingAndGlyphs">ATP2B2</text>
<text x="133.6" y="311.75" textLength="12.7" lengthAdjust="spacingAndGlyphs">INPP5D</text>
<text x="181.8" y="294.85" textLength="8.8" lengthAdjust="spacingAndGlyphs">PAK2</text>
<text x="180.4" y="311.25" textLength="11.4" lengthAdjust="spacingAndGlyphs">PIK3CA</text>
<text x="200.7" y="304.85" textLength="15.6" lengthAdjust="spacingAndGlyphs">ANKRD17</text>
<text x="224.1" y="291.15" textLength="12.6" lengthAdjust="spacingAndGlyphs">OTULIN</text>
<text x="246.6" y="298.55" textLength="12.0" lengthAdjust="spacingAndGlyphs">PDZD2</text>
<text x="293" y="313.55" textLength="6.5" lengthAdjust="spacingAndGlyphs">FYN</text>
<text x="348.1" y="291.95" textLength="11.2" lengthAdjust="spacingAndGlyphs">TNPO3</text>
<text x="320.2" y="300.75" textLength="10.4" lengthAdjust="spacingAndGlyphs">GNAI1</text>
<text x="339.7" y="312.95" textLength="12.2" lengthAdjust="spacingAndGlyphs">KMT2C1</text>
<text x="385" y="306.45" textLength="14.6" lengthAdjust="spacingAndGlyphs">HNRNPK</text>
<text x="403.2" y="284.75" textLength="10.8" lengthAdjust="spacingAndGlyphs">GRIN1</text>
<text x="414.1" y="313.55" textLength="11.6" lengthAdjust="spacingAndGlyphs">STXBP1</text>
<text x="447.5" y="287.85" textLength="10.3" lengthAdjust="spacingAndGlyphs">PACS1</text>
<text x="448.1" y="303.05" textLength="10.6" lengthAdjust="spacingAndGlyphs">DEAF1</text>
<text x="472.6" y="303.05" textLength="11.1" lengthAdjust="spacingAndGlyphs">KMT2D</text>
<text x="486.9" y="315.65" textLength="12.6" lengthAdjust="spacingAndGlyphs">MED13L</text>
<text x="508.1" y="307.65" textLength="7.9" lengthAdjust="spacingAndGlyphs">ULK1</text>
<text x="521.1" y="318.95" textLength="12.2" lengthAdjust="spacingAndGlyphs">UNC79</text>
<text x="534.3" y="314.85" textLength="10.3" lengthAdjust="spacingAndGlyphs">ACTN1</text>
<text x="547.9" y="302.85" textLength="16.4" lengthAdjust="spacingAndGlyphs">RASGRF1</text>
<text x="561.1" y="298.05" textLength="12.8" lengthAdjust="spacingAndGlyphs">LINGO1</text>
<text x="565.5" y="314.85" textLength="13.2" lengthAdjust="spacingAndGlyphs">CREBBP</text>
<text x="580.7" y="297.95" textLength="8.2" lengthAdjust="spacingAndGlyphs">TSC2</text>
<text x="581.7" y="306.65" textLength="11.0" lengthAdjust="spacingAndGlyphs">GSPT1</text>
<text x="583.5" y="285.45" textLength="14.0" lengthAdjust="spacingAndGlyphs">CAMTA2</text>
<text x="602.3" y="296.65" textLength="9.6" lengthAdjust="spacingAndGlyphs">DLG4</text>
<text x="600.3" y="304.65" textLength="6.6" lengthAdjust="spacingAndGlyphs">ABR</text>
<text x="610" y="309.45" textLength="11.5" lengthAdjust="spacingAndGlyphs">MED13</text>
<text x="620" y="298.65" textLength="10.7" lengthAdjust="spacingAndGlyphs">PTPRS</text>
<text x="637.1" y="309.05" textLength="9.2" lengthAdjust="spacingAndGlyphs">BRD4</text>
<text x="666.3" y="282.75" textLength="10.6" lengthAdjust="spacingAndGlyphs">TCF20</text>
<text x="235.5" y="310.85" textLength="10.8" lengthAdjust="spacingAndGlyphs" font-weight="bold">NIPBL</text>
</g>
<g fill="#5d2340"><circle cx="133.9" cy="80.7" r="3.95"/><circle cx="434.7" cy="21.0" r="3.95"/><circle cx="680.9" cy="56.6" r="3.95"/><circle cx="535.0" cy="154.0" r="3.95"/><circle cx="284.9" cy="173.7" r="3.95"/><circle cx="166.9" cy="220.7" r="3.95"/><circle cx="44.0" cy="271.4" r="3.95"/><circle cx="141.3" cy="275.8" r="3.95"/><circle cx="332.4" cy="273.6" r="3.95"/><circle cx="458.9" cy="250.0" r="3.95"/><circle cx="478.0" cy="266.0" r="3.95"/><circle cx="552.7" cy="245.8" r="3.95"/><circle cx="595.2" cy="238.3" r="3.95"/><circle cx="574.4" cy="268.4" r="3.95"/><circle cx="655.9" cy="252.6" r="3.95"/><circle cx="626.2" cy="261.1" r="3.95"/></g>
<g fill="#1a1a1a" font-style="italic">
<text x="133.4" y="74.6" font-size="12.1" textLength="38.5" lengthAdjust="spacingAndGlyphs">SCN2A</text>
<text x="399.3" y="35.5" font-size="12.1" textLength="28.9" lengthAdjust="spacingAndGlyphs">PTEN</text>
<text x="625.0" y="60.7" font-size="12.1" textLength="48.0" lengthAdjust="spacingAndGlyphs">SHANK3</text>
<text x="499.3" y="168.8" font-size="12.1" textLength="32.2" lengthAdjust="spacingAndGlyphs">CHD8</text>
<text x="276.1" y="167.8" font-size="12.1" textLength="52.0" lengthAdjust="spacingAndGlyphs">SYNGAP1</text>
<text x="164.8" y="216.7" font-size="9.0" stroke="#1a1a1a" stroke-width="0.15" textLength="23.4" lengthAdjust="spacingAndGlyphs">FOXP1</text>
<text x="47.5" y="274.3" font-size="9.0" stroke="#1a1a1a" stroke-width="0.15" textLength="23.6" lengthAdjust="spacingAndGlyphs">MTOR</text>
<text x="141.0" y="271.4" font-size="9.0" stroke="#1a1a1a" stroke-width="0.15" textLength="23.7" lengthAdjust="spacingAndGlyphs">SATB2</text>
<text x="329.3" y="269.0" font-size="9.0" stroke="#1a1a1a" stroke-width="0.15" textLength="29.2" lengthAdjust="spacingAndGlyphs">YWHAG</text>
<text x="456.0" y="245.6" font-size="9.0" stroke="#1a1a1a" stroke-width="0.15" textLength="27.2" lengthAdjust="spacingAndGlyphs">MARK2</text>
<text x="451.9" y="275.8" font-size="9.0" stroke="#1a1a1a" stroke-width="0.15" textLength="29.2" lengthAdjust="spacingAndGlyphs">GRIN2B</text>
<text x="545.5" y="241.3" font-size="9.0" stroke="#1a1a1a" stroke-width="0.15" textLength="34.8" lengthAdjust="spacingAndGlyphs">DYNC1H1</text>
<text x="597.1" y="247.4" font-size="9.0" stroke="#1a1a1a" stroke-width="0.15" textLength="19.1" lengthAdjust="spacingAndGlyphs">GSE1</text>
<text x="550.4" y="277.7" font-size="9.0" stroke="#1a1a1a" stroke-width="0.15" textLength="21.9" lengthAdjust="spacingAndGlyphs">CHD2</text>
<text x="632.9" y="262.1" font-size="9.0" stroke="#1a1a1a" stroke-width="0.15" textLength="22.1" lengthAdjust="spacingAndGlyphs">ADNP</text>
<text x="605.1" y="271.0" font-size="9.0" stroke="#1a1a1a" stroke-width="0.15" textLength="19.3" lengthAdjust="spacingAndGlyphs">TCF4</text>
</g>
<line x1="38.5" x2="38.5" y1="0" y2="341.7" stroke="#666666" stroke-width="1"/>
<line x1="34" x2="685" y1="341.2" y2="341.2" stroke="#666666" stroke-width="1.1"/>
<g fill="#1a1a1a" font-size="10.4" text-anchor="end">
<text x="29.4" y="344.8">0</text>
<line x1="34" x2="38.5" y1="279.3" y2="279.3" stroke="#666666" stroke-width="1"/>
<text x="29.4" y="283.0">2</text>
<line x1="34" x2="38.5" y1="217.4" y2="217.4" stroke="#666666" stroke-width="1"/>
<text x="29.4" y="221.1">4</text>
<line x1="34" x2="38.5" y1="155.6" y2="155.6" stroke="#666666" stroke-width="1"/>
<text x="29.4" y="159.3">6</text>
<line x1="34" x2="38.5" y1="93.7" y2="93.7" stroke="#666666" stroke-width="1"/>
<text x="29.4" y="97.4">8</text>
<line x1="34" x2="38.5" y1="31.9" y2="31.9" stroke="#666666" stroke-width="1"/>
<text x="29.4" y="35.6">10</text>
</g>
<g fill="#1a1a1a" font-size="10.4" text-anchor="middle">
<line x1="69.4" x2="69.4" y1="341.2" y2="345.6" stroke="#666666" stroke-width="1"/>
<text x="69.4" y="358.4">1</text>
<line x1="123.8" x2="123.8" y1="341.2" y2="345.6" stroke="#666666" stroke-width="1"/>
<text x="123.8" y="358.4">2</text>
<line x1="172.5" x2="172.5" y1="341.2" y2="345.6" stroke="#666666" stroke-width="1"/>
<text x="172.5" y="358.4">3</text>
<line x1="216.2" x2="216.2" y1="341.2" y2="345.6" stroke="#666666" stroke-width="1"/>
<text x="216.2" y="358.4">4</text>
<line x1="257.5" x2="257.5" y1="341.2" y2="345.6" stroke="#666666" stroke-width="1"/>
<text x="257.5" y="358.4">5</text>
<line x1="296.6" x2="296.6" y1="341.2" y2="345.6" stroke="#666666" stroke-width="1"/>
<text x="296.6" y="358.4">6</text>
<line x1="333.3" x2="333.3" y1="341.2" y2="345.6" stroke="#666666" stroke-width="1"/>
<text x="333.3" y="358.4">7</text>
<line x1="367.1" x2="367.1" y1="341.2" y2="345.6" stroke="#666666" stroke-width="1"/>
<text x="367.1" y="358.4">8</text>
<line x1="398.9" x2="398.9" y1="341.2" y2="345.6" stroke="#666666" stroke-width="1"/>
<text x="398.9" y="358.4">9</text>
<line x1="429.5" x2="429.5" y1="341.2" y2="345.6" stroke="#666666" stroke-width="1"/>
<text x="429.5" y="358.4">10</text>
<line x1="459.4" x2="459.4" y1="341.2" y2="345.6" stroke="#666666" stroke-width="1"/>
<text x="459.4" y="358.4">11</text>
<line x1="489.4" x2="489.4" y1="341.2" y2="345.6" stroke="#666666" stroke-width="1"/>
<text x="489.4" y="358.4">12</text>
<line x1="519.7" x2="519.7" y1="341.2" y2="345.6" stroke="#666666" stroke-width="1"/>
<text x="519.7" y="358.4">13</text>
<line x1="544.1" x2="544.1" y1="341.2" y2="345.6" stroke="#666666" stroke-width="1"/>
<text x="544.1" y="358.4">14</text>
<line x1="567.5" x2="567.5" y1="341.2" y2="345.6" stroke="#666666" stroke-width="1"/>
<text x="567.5" y="358.4">15</text>
<line x1="586.7" x2="586.7" y1="341.2" y2="345.6" stroke="#666666" stroke-width="1"/>
<text x="586.7" y="358.4">16</text>
<line x1="605.4" x2="605.4" y1="341.2" y2="345.6" stroke="#666666" stroke-width="1"/>
<text x="605.4" y="358.4">17</text>
<line x1="623.3" x2="623.3" y1="341.2" y2="345.6" stroke="#666666" stroke-width="1"/>
<text x="623.3" y="358.4">18</text>
<line x1="638.4" x2="638.4" y1="341.2" y2="345.6" stroke="#666666" stroke-width="1"/>
<text x="638.4" y="358.4" textLength="10.7" lengthAdjust="spacingAndGlyphs">19</text>
<line x1="652.0" x2="652.0" y1="341.2" y2="345.6" stroke="#666666" stroke-width="1"/>
<text x="652.0" y="358.4" textLength="12.9" lengthAdjust="spacingAndGlyphs">20</text>
<line x1="665.5" x2="665.5" y1="341.2" y2="345.6" stroke="#666666" stroke-width="1"/>
<text x="665.7" y="358.4" textLength="10.5" lengthAdjust="spacingAndGlyphs">21</text>
<line x1="677.5" x2="677.5" y1="341.2" y2="345.6" stroke="#666666" stroke-width="1"/>
<text x="677.5" y="358.4">22</text>
</g>
<text x="323.3" y="376.2" font-size="12.4" fill="#1a1a1a" textLength="75.8" lengthAdjust="spacingAndGlyphs">Chromosome</text>
<text transform="translate(10.3,188.7) rotate(-90)" font-size="10.4" fill="#1a1a1a" textLength="50.9" lengthAdjust="spacingAndGlyphs">–log<tspan font-size="6.6" dy="1.8">10</tspan><tspan dy="-1.8">(Q)</tspan></text>
</svg></body></html>
